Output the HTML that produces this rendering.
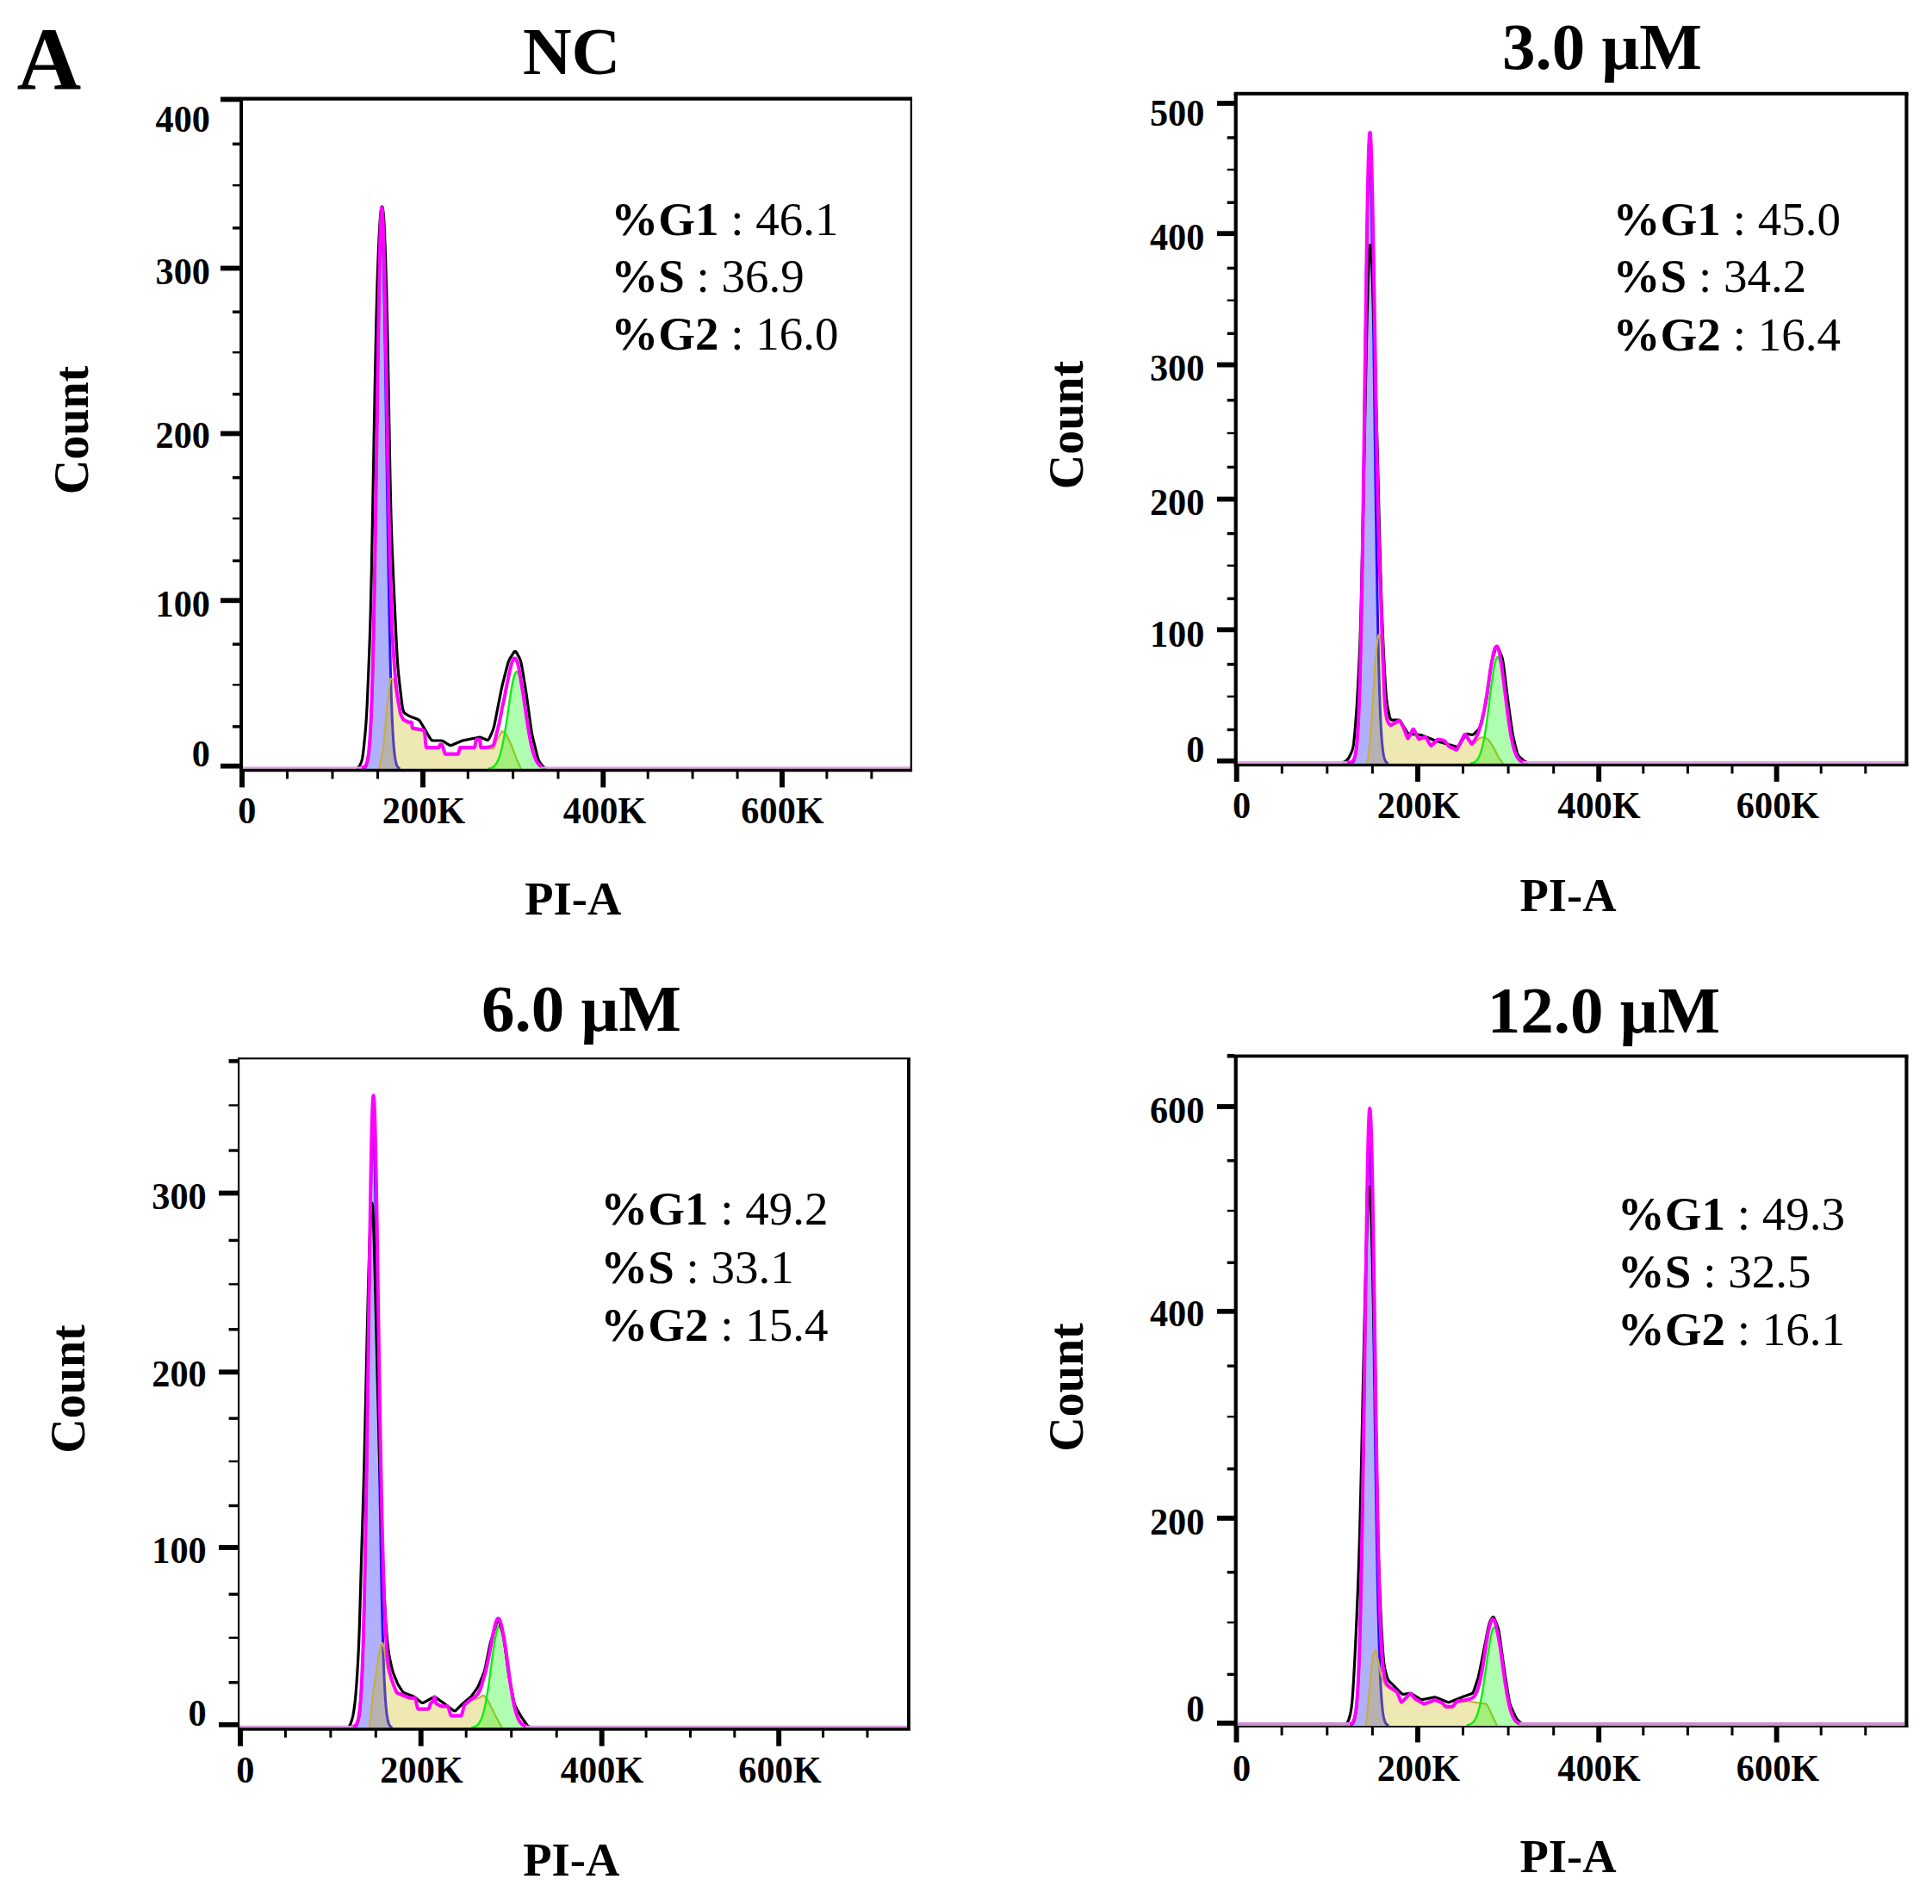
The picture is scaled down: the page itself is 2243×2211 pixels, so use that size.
<!DOCTYPE html>
<html lang="en"><head><meta charset="utf-8"><title>Cell cycle distribution</title>
<style>html,body{margin:0;padding:0;background:#fff}body{width:2243px;height:2211px;overflow:hidden}svg{display:block}text{font-family:"Liberation Serif","Times New Roman",serif;fill:#000}</style>
</head><body>
<svg width="2243" height="2211" viewBox="0 0 2243 2211">
<rect width="2243" height="2211" fill="#fff"/>
<defs>
<clipPath id="clip_NC"><rect x="280.1" y="114.7" width="777.9" height="778.6"/></clipPath>
<clipPath id="clip_3_0"><rect x="1434.7" y="108.8" width="778.7" height="778.4"/></clipPath>
<clipPath id="clip_6_0"><rect x="277.1" y="1229.2" width="777.9" height="777.4"/></clipPath>
<clipPath id="clip_12_0"><rect x="1434.7" y="1226.4" width="778.7" height="778.2"/></clipPath>
</defs>
<text x="19.6" y="104" font-size="103.5" text-anchor="start" font-weight="bold">A</text>
<g>
<g clip-path="url(#clip_NC)">
<path d="M421.1 893 L421.1 892.7 421.6 892.6 422.1 892.4 422.6 892.2 423.1 891.9 423.6 891.5 424.1 890.9 424.6 890.2 425.1 889.3 425.6 888.1 426.1 886.5 426.6 884.5 427.1 882 427.6 878.9 428.1 875 428.6 870.2 429.1 864.5 429.6 857.5 430.1 849.2 430.6 839.3 431.1 827.8 431.6 814.4 432.1 799.1 432.6 781.6 433.1 762 433.6 740 434.1 715.9 434.6 689.5 435.1 661.1 435.6 630.8 436.1 598.9 436.6 565.7 437.1 531.7 437.6 497.4 438.1 463.2 438.6 429.7 439.1 397.6 439.6 367.5 440.1 340 440.6 315.7 441.1 295.1 441.6 278.7 442.1 266.8 442.6 259.8 443.1 257.8 443.6 260.8 444.1 268.8 444.6 281.6 445.1 298.9 445.6 320.3 446.1 345.3 446.6 373.4 447.1 403.9 447.6 436.3 448.1 470 448.6 504.2 449.1 538.6 449.6 572.5 450.1 605.4 450.6 637 451.1 666.9 451.6 694.9 452.1 720.9 452.6 744.6 453.1 766.1 453.6 785.3 454.1 802.3 454.6 817.3 455.1 830.3 455.6 841.4 456.1 851 456.6 859 457.1 865.7 457.6 871.3 458.1 875.8 458.6 879.6 459.1 882.5 459.6 884.9 460.1 886.8 460.6 888.3 461.1 889.5 461.6 890.4 462.1 891 462.6 891.6 463.1 892 463.6 892.2 464.1 892.5 464.6 892.6 L464.6 893 Z" fill="#0000ff" fill-opacity="0.31"/>
<path d="M421.1 892.7 421.6 892.6 422.1 892.4 422.6 892.2 423.1 891.9 423.6 891.5 424.1 890.9 424.6 890.2 425.1 889.3 425.6 888.1 426.1 886.5 426.6 884.5 427.1 882 427.6 878.9 428.1 875 428.6 870.2 429.1 864.5 429.6 857.5 430.1 849.2 430.6 839.3 431.1 827.8 431.6 814.4 432.1 799.1 432.6 781.6 433.1 762 433.6 740 434.1 715.9 434.6 689.5 435.1 661.1 435.6 630.8 436.1 598.9 436.6 565.7 437.1 531.7 437.6 497.4 438.1 463.2 438.6 429.7 439.1 397.6 439.6 367.5 440.1 340 440.6 315.7 441.1 295.1 441.6 278.7 442.1 266.8 442.6 259.8 443.1 257.8 443.6 260.8 444.1 268.8 444.6 281.6 445.1 298.9 445.6 320.3 446.1 345.3 446.6 373.4 447.1 403.9 447.6 436.3 448.1 470 448.6 504.2 449.1 538.6 449.6 572.5 450.1 605.4 450.6 637 451.1 666.9 451.6 694.9 452.1 720.9 452.6 744.6 453.1 766.1 453.6 785.3 454.1 802.3 454.6 817.3 455.1 830.3 455.6 841.4 456.1 851 456.6 859 457.1 865.7 457.6 871.3 458.1 875.8 458.6 879.6 459.1 882.5 459.6 884.9 460.1 886.8 460.6 888.3 461.1 889.5 461.6 890.4 462.1 891 462.6 891.6 463.1 892 463.6 892.2 464.1 892.5 464.6 892.6" fill="none" stroke="#2210ff" stroke-width="3.0" stroke-linejoin="round"/>
<path d="M439.6 893 L439.6 893 440.1 892.4 440.6 890.2 441.1 887.8 441.6 885.2 442.1 882.8 442.6 880.2 443.1 877.8 443.6 875.2 444.1 872.7 444.6 870.2 445.1 867 445.6 861.8 446.1 856.2 446.6 850.6 447.1 844.9 447.6 839.3 448.1 833.7 448.6 828.1 449.1 822.8 449.6 818.2 450.1 813.8 450.6 809.4 451.1 805.1 451.6 800.7 452.1 796.3 452.6 792 453.1 788.7 453.6 788.1 454.1 788.3 454.6 788.4 455.1 788.5 455.6 788.6 456.1 788.8 456.6 788.9 457.1 789.7 457.6 792 458.1 794.8 458.6 797.5 459.1 800.3 459.6 803 460.1 805.8 460.6 808.5 461.1 811.2 461.6 813.7 462.1 816.2 462.6 818.8 463.1 821.2 463.6 823.8 464.1 826.2 464.6 828.7 465.1 830.9 465.6 832.1 466.1 833.1 466.6 834.1 467.1 835.1 467.6 836.1 468.1 836.9 468.6 837.3 469.1 837.5 469.6 837.8 470.1 838 470.6 838.3 471.1 838.5 471.6 838.8 472.1 839 472.6 839.3 473.1 839.5 473.6 839.8 474.1 840 474.6 840 475.1 840 475.6 840 476.1 840 476.6 840 477.1 840 477.6 840.1 478.1 841.6 478.6 846 479.1 847.1 479.6 847.2 480.1 847.2 480.6 847.3 481.1 847.4 481.6 847.5 482.1 847.6 482.6 847.6 483.1 847.7 483.6 847.8 484.1 847.9 484.6 848 485.1 848 485.6 848.1 486.1 848.2 486.6 848.3 487.1 848.4 487.6 848.4 488.1 848.5 488.6 848.6 489.1 848.7 489.6 848.8 490.1 848.8 490.6 848.9 491.1 849.1 491.6 849.6 492.1 850.1 492.6 850.7 493.1 852.5 493.6 857.8 494.1 863.8 494.6 868.6 495.1 869.5 495.6 869.5 496.1 869.5 496.6 869.5 497.1 869.5 497.6 869.5 498.1 869.5 498.6 869.5 499.1 869.5 499.6 869.5 500.1 869.5 500.6 869.5 501.1 869.5 501.6 869.5 502.1 869.5 502.6 869.5 503.1 869.5 503.6 869.5 504.1 869.5 504.6 869.5 505.1 869.5 505.6 869.5 506.1 869.5 506.6 869.5 507.1 869.5 507.6 869.5 508.1 869.5 508.6 869.5 509.1 869.5 509.6 869.4 510.1 868.5 510.6 866.5 511.1 866 511.6 866 512 866 512.5 866 513 866.1 513.5 866.7 514 868.2 514.5 870 515 871.7 515.5 873.4 516 875.1 516.5 876.6 517 877 517.5 877 518 877 518.5 877 519 877 519.5 877 520 877 520.5 877 521 877 521.5 877 522 877 522.5 877 523 877 523.5 877 524 877 524.5 877 525 877 525.5 877 526 877 526.5 877 527 877 527.5 877 528 877 528.5 877 529 877 529.5 877 530 877 530.5 877 531 877 531.5 877 532 876.8 532.5 875.7 533 873.7 533.5 871.5 534 869.8 534.5 869.5 535 869.5 535.5 869.5 536 869.5 536.5 869.5 537 869.5 537.5 869.5 538 869.5 538.5 869.5 539 869.5 539.5 869.5 540 869.5 540.5 869.5 541 869.5 541.5 869.5 542 869.5 542.5 869.5 543 869.5 543.5 869.5 544 869.5 544.5 869.5 545 869.5 545.5 869.5 546 869.5 546.5 869.5 547 869.5 547.5 869.5 548 869.5 548.5 869.5 549 869.5 549.5 869.5 550 869.5 550.5 869.5 551 869.2 551.5 867.6 552 864.8 552.5 861.9 553 860.3 553.5 860 554 860 554.5 860 555 860 555.5 860 556 860 556.5 860 557 860.4 557.5 863.2 558 868.3 558.5 869.5 559 869.5 559.5 869.5 560 869.5 560.5 869.5 561 869.5 561.5 869.5 562 869.5 562.5 869.5 563 869.5 563.5 869.5 564 869.5 564.5 869.5 565 869.5 565.5 869.5 566 869.5 566.5 869.5 567 869.5 567.5 869.5 568 869.5 568.5 869.5 569 869.5 569.5 869.5 570 869.5 570.5 869.5 571 869.5 571.5 869.5 572 869.5 572.5 869.5 573 869.2 573.5 868.1 574 866.7 574.5 865.4 575 864.1 575.5 862.8 576 861.5 576.5 860.2 577 859 577.5 858.1 578 857.3 578.5 856.4 579 855.6 579.5 854.8 580 853.9 580.5 853.1 581 852.3 581.5 851.4 582 850.6 582.5 849.8 583 849.2 583.5 849.4 584 849.8 584.5 850.2 585 850.6 585.5 851 586 851.4 586.5 851.8 587 852.2 587.5 852.7 588 853.2 588.5 854.2 589 855.3 589.5 856.4 590 857.4 590.5 858.5 591 859.6 591.5 860.7 592 861.8 592.5 862.9 593 863.9 593.5 865 594 866.2 594.5 867.5 595 868.8 595.5 870.1 596 871.5 596.5 872.8 597 874.1 597.5 875.5 598 876.8 598.5 878.1 599 879.5 599.5 880.8 600 882.1 600.5 883.2 601 884.3 601.5 885.4 602 886.5 602.5 887.6 603 888.7 603.5 889.8 604 890.9 604.5 892 605 892.8 L605 893 Z" fill="#c8b400" fill-opacity="0.3"/>
<path d="M439.6 893 440.1 892.4 440.6 890.2 441.1 887.8 441.6 885.2 442.1 882.8 442.6 880.2 443.1 877.8 443.6 875.2 444.1 872.7 444.6 870.2 445.1 867 445.6 861.8 446.1 856.2 446.6 850.6 447.1 844.9 447.6 839.3 448.1 833.7 448.6 828.1 449.1 822.8 449.6 818.2 450.1 813.8 450.6 809.4 451.1 805.1 451.6 800.7 452.1 796.3 452.6 792 453.1 788.7 453.6 788.1 454.1 788.3 454.6 788.4 455.1 788.5 455.6 788.6 456.1 788.8 456.6 788.9 457.1 789.7 457.6 792 458.1 794.8 458.6 797.5 459.1 800.3 459.6 803 460.1 805.8 460.6 808.5 461.1 811.2 461.6 813.7 462.1 816.2 462.6 818.8 463.1 821.2 463.6 823.8 464.1 826.2 464.6 828.7 465.1 830.9 465.6 832.1 466.1 833.1 466.6 834.1 467.1 835.1 467.6 836.1 468.1 836.9 468.6 837.3 469.1 837.5 469.6 837.8 470.1 838 470.6 838.3 471.1 838.5 471.6 838.8 472.1 839 472.6 839.3 473.1 839.5 473.6 839.8 474.1 840 474.6 840 475.1 840 475.6 840 476.1 840 476.6 840 477.1 840 477.6 840.1 478.1 841.6 478.6 846 479.1 847.1 479.6 847.2 480.1 847.2 480.6 847.3 481.1 847.4 481.6 847.5 482.1 847.6 482.6 847.6 483.1 847.7 483.6 847.8 484.1 847.9 484.6 848 485.1 848 485.6 848.1 486.1 848.2 486.6 848.3 487.1 848.4 487.6 848.4 488.1 848.5 488.6 848.6 489.1 848.7 489.6 848.8 490.1 848.8 490.6 848.9 491.1 849.1 491.6 849.6 492.1 850.1 492.6 850.7 493.1 852.5 493.6 857.8 494.1 863.8 494.6 868.6 495.1 869.5 495.6 869.5 496.1 869.5 496.6 869.5 497.1 869.5 497.6 869.5 498.1 869.5 498.6 869.5 499.1 869.5 499.6 869.5 500.1 869.5 500.6 869.5 501.1 869.5 501.6 869.5 502.1 869.5 502.6 869.5 503.1 869.5 503.6 869.5 504.1 869.5 504.6 869.5 505.1 869.5 505.6 869.5 506.1 869.5 506.6 869.5 507.1 869.5 507.6 869.5 508.1 869.5 508.6 869.5 509.1 869.5 509.6 869.4 510.1 868.5 510.6 866.5 511.1 866 511.6 866 512 866 512.5 866 513 866.1 513.5 866.7 514 868.2 514.5 870 515 871.7 515.5 873.4 516 875.1 516.5 876.6 517 877 517.5 877 518 877 518.5 877 519 877 519.5 877 520 877 520.5 877 521 877 521.5 877 522 877 522.5 877 523 877 523.5 877 524 877 524.5 877 525 877 525.5 877 526 877 526.5 877 527 877 527.5 877 528 877 528.5 877 529 877 529.5 877 530 877 530.5 877 531 877 531.5 877 532 876.8 532.5 875.7 533 873.7 533.5 871.5 534 869.8 534.5 869.5 535 869.5 535.5 869.5 536 869.5 536.5 869.5 537 869.5 537.5 869.5 538 869.5 538.5 869.5 539 869.5 539.5 869.5 540 869.5 540.5 869.5 541 869.5 541.5 869.5 542 869.5 542.5 869.5 543 869.5 543.5 869.5 544 869.5 544.5 869.5 545 869.5 545.5 869.5 546 869.5 546.5 869.5 547 869.5 547.5 869.5 548 869.5 548.5 869.5 549 869.5 549.5 869.5 550 869.5 550.5 869.5 551 869.2 551.5 867.6 552 864.8 552.5 861.9 553 860.3 553.5 860 554 860 554.5 860 555 860 555.5 860 556 860 556.5 860 557 860.4 557.5 863.2 558 868.3 558.5 869.5 559 869.5 559.5 869.5 560 869.5 560.5 869.5 561 869.5 561.5 869.5 562 869.5 562.5 869.5 563 869.5 563.5 869.5 564 869.5 564.5 869.5 565 869.5 565.5 869.5 566 869.5 566.5 869.5 567 869.5 567.5 869.5 568 869.5 568.5 869.5 569 869.5 569.5 869.5 570 869.5 570.5 869.5 571 869.5 571.5 869.5 572 869.5 572.5 869.5 573 869.2 573.5 868.1 574 866.7 574.5 865.4 575 864.1 575.5 862.8 576 861.5 576.5 860.2 577 859 577.5 858.1 578 857.3 578.5 856.4 579 855.6 579.5 854.8 580 853.9 580.5 853.1 581 852.3 581.5 851.4 582 850.6 582.5 849.8 583 849.2 583.5 849.4 584 849.8 584.5 850.2 585 850.6 585.5 851 586 851.4 586.5 851.8 587 852.2 587.5 852.7 588 853.2 588.5 854.2 589 855.3 589.5 856.4 590 857.4 590.5 858.5 591 859.6 591.5 860.7 592 861.8 592.5 862.9 593 863.9 593.5 865 594 866.2 594.5 867.5 595 868.8 595.5 870.1 596 871.5 596.5 872.8 597 874.1 597.5 875.5 598 876.8 598.5 878.1 599 879.5 599.5 880.8 600 882.1 600.5 883.2 601 884.3 601.5 885.4 602 886.5 602.5 887.6 603 888.7 603.5 889.8 604 890.9 604.5 892 605 892.8" fill="none" stroke="#c4b040" stroke-width="2.2" stroke-linejoin="round"/>
<path d="M566.5 893 L566.5 892.6 567 892.6 567.5 892.5 568 892.4 568.5 892.3 569 892.1 569.5 892 570 891.8 570.5 891.6 571 891.4 571.5 891.2 572 890.9 572.5 890.6 573 890.2 573.5 889.8 574 889.4 574.5 888.8 575 888.3 575.5 887.6 576 886.9 576.5 886.2 577 885.3 577.5 884.4 578 883.3 578.5 882.2 579 881 579.5 879.6 580 878.2 580.5 876.6 581 874.9 581.5 873.1 582 871.2 582.5 869.1 583 866.9 583.5 864.6 584 862.1 584.5 859.6 585 856.9 585.5 854.1 586 851.1 586.5 848.1 587 845 587.5 841.8 588 838.5 588.5 835.1 589 831.7 589.5 828.3 590 824.8 590.5 821.3 591 817.9 591.5 814.5 592 811.1 592.5 807.9 593 804.7 593.5 801.6 594 798.7 594.5 795.9 595 793.3 595.5 790.9 596 788.6 596.5 786.7 597 784.9 597.5 783.4 598 782.2 598.5 781.2 599 780.5 599.5 780.1 600 780 600.5 780.2 601 780.6 601.5 781.4 602 782.4 602.5 783.7 603 785.2 603.5 787 604 789.1 604.5 791.3 605 793.8 605.5 796.4 606 799.2 606.5 802.2 607 805.3 607.5 808.5 608 811.8 608.5 815.2 609 818.6 609.5 822 610 825.5 610.5 829 611 832.4 611.5 835.8 612 839.1 612.5 842.4 613 845.6 613.5 848.7 614 851.7 614.5 854.6 615 857.4 615.5 860.1 616 862.6 616.5 865.1 617 867.4 617.5 869.5 618 871.6 618.5 873.5 619 875.3 619.5 876.9 620 878.5 620.5 879.9 621 881.2 621.5 882.4 622 883.5 622.5 884.6 623 885.5 623.5 886.3 624 887.1 624.5 887.8 625 888.4 625.5 889 626 889.5 626.5 889.9 627 890.3 627.5 890.6 628 891 628.5 891.2 629 891.5 629.5 891.7 630 891.9 630.5 892 631 892.2 631.5 892.3 632 892.4 632.5 892.5 633 892.6 633.5 892.6 L633.5 893 Z" fill="#00ff00" fill-opacity="0.31"/>
<path d="M566.5 892.6 567 892.6 567.5 892.5 568 892.4 568.5 892.3 569 892.1 569.5 892 570 891.8 570.5 891.6 571 891.4 571.5 891.2 572 890.9 572.5 890.6 573 890.2 573.5 889.8 574 889.4 574.5 888.8 575 888.3 575.5 887.6 576 886.9 576.5 886.2 577 885.3 577.5 884.4 578 883.3 578.5 882.2 579 881 579.5 879.6 580 878.2 580.5 876.6 581 874.9 581.5 873.1 582 871.2 582.5 869.1 583 866.9 583.5 864.6 584 862.1 584.5 859.6 585 856.9 585.5 854.1 586 851.1 586.5 848.1 587 845 587.5 841.8 588 838.5 588.5 835.1 589 831.7 589.5 828.3 590 824.8 590.5 821.3 591 817.9 591.5 814.5 592 811.1 592.5 807.9 593 804.7 593.5 801.6 594 798.7 594.5 795.9 595 793.3 595.5 790.9 596 788.6 596.5 786.7 597 784.9 597.5 783.4 598 782.2 598.5 781.2 599 780.5 599.5 780.1 600 780 600.5 780.2 601 780.6 601.5 781.4 602 782.4 602.5 783.7 603 785.2 603.5 787 604 789.1 604.5 791.3 605 793.8 605.5 796.4 606 799.2 606.5 802.2 607 805.3 607.5 808.5 608 811.8 608.5 815.2 609 818.6 609.5 822 610 825.5 610.5 829 611 832.4 611.5 835.8 612 839.1 612.5 842.4 613 845.6 613.5 848.7 614 851.7 614.5 854.6 615 857.4 615.5 860.1 616 862.6 616.5 865.1 617 867.4 617.5 869.5 618 871.6 618.5 873.5 619 875.3 619.5 876.9 620 878.5 620.5 879.9 621 881.2 621.5 882.4 622 883.5 622.5 884.6 623 885.5 623.5 886.3 624 887.1 624.5 887.8 625 888.4 625.5 889 626 889.5 626.5 889.9 627 890.3 627.5 890.6 628 891 628.5 891.2 629 891.5 629.5 891.7 630 891.9 630.5 892 631 892.2 631.5 892.3 632 892.4 632.5 892.5 633 892.6 633.5 892.6" fill="none" stroke="#10ee10" stroke-width="2.4" stroke-linejoin="round"/>
<path d="M414.1 891.5 414.6 891.5 415.1 891.4 415.6 891.3 416.1 891 416.6 890.6 417.1 889.9 417.6 889 418.1 888 418.6 886.9 419.1 885.8 419.6 884.5 420.1 882.9 420.6 880.8 421.1 878.1 421.6 874.5 422.1 870.3 422.6 865.6 423.1 860.7 423.6 855.6 424.1 850.2 424.6 844.3 425.1 837.5 425.6 829.5 426.1 820 426.6 809.3 427.1 797.7 427.6 785.7 428.1 773.4 428.6 760.7 429.1 747.2 429.6 732.2 430.1 715.1 430.6 695.5 431.1 673.6 431.6 649.7 432.1 623.9 432.6 596.8 433.1 568.6 433.6 540 434.1 511.7 434.6 484 435.1 457.4 435.6 431.9 436.1 407.4 436.6 384.1 437.1 362.5 437.6 343.1 438.1 326.1 438.6 311.4 439.1 298.3 439.6 286.4 440.1 275.4 440.6 265.6 441.1 257.4 441.6 250.9 442.1 246 442.6 242.6 443.1 240.5 443.6 240 444.1 240.9 444.6 243.4 445.1 247.6 445.6 253.7 446.1 262.1 446.6 273.1 447.1 286.2 447.6 301 448.1 317.2 448.6 334.9 449.1 354.5 449.6 376.5 450.1 400.6 450.6 426.5 451.1 453.6 451.6 481.4 452.1 509.2 452.6 536.3 453.1 561.6 453.6 584 454.1 603 454.6 618.9 455.1 632.5 455.6 644.8 456.1 656.5 456.6 668 457.1 679.2 457.6 690.3 458.1 701.1 458.6 711.9 459.1 722.6 459.6 733.2 460.1 743.6 460.6 753.4 461.1 762.3 461.6 770 462.1 776.5 462.6 782 463.1 786.8 463.6 791.3 464.1 795.7 464.6 799.9 465.1 804.2 465.6 808.5 466.1 812.6 466.6 816.6 467.1 820.1 467.6 823 468.1 825.1 468.6 826.5 469.1 827.4 469.6 828 470.1 828.4 470.6 828.7 471.1 829 471.6 829.3 472.1 829.6 472.6 830 473.1 830.3 473.6 830.6 474.1 830.9 474.6 831.2 475.1 831.4 475.6 831.7 476.1 831.9 476.6 832.1 477.1 832.3 477.6 832.5 478.1 832.7 478.6 832.9 479.1 833.1 479.6 833.2 480.1 833.4 480.6 833.6 481.1 833.8 481.6 834 482.1 834.2 482.6 834.4 483.1 834.6 483.6 834.8 484.1 835 484.6 835.2 485.1 835.4 485.6 835.6 486.1 836 486.6 836.4 487.1 836.9 487.6 837.6 488.1 838.3 488.6 839.1 489.1 839.9 489.6 840.8 490.1 841.6 490.6 842.4 491.1 843.3 491.6 844.1 492.1 844.9 492.6 845.8 493.1 846.6 493.6 847.5 494.1 848.3 494.6 849.2 495.1 850 495.6 850.9 496.1 851.8 496.6 852.6 497.1 853.5 497.6 854.4 498.1 855.2 498.6 856.1 499.1 856.9 499.6 857.7 500.1 858.5 500.6 859.1 501.1 859.5 501.6 859.8 502.1 859.9 502.6 860 503.1 860 503.6 860 504.1 860 504.6 860 505.1 860 505.6 860 506.1 860 506.6 860 507.1 860 507.6 860 508.1 860 508.6 860 509.1 860 509.6 860 510.1 860 510.6 860 511.1 860 511.6 860 512 860 512.5 860.1 513 860.2 513.5 860.3 514 860.5 514.5 860.8 515 861.1 515.5 861.4 516 861.7 516.5 862 517 862.3 517.5 862.6 518 862.9 518.5 863.3 519 863.6 519.5 863.9 520 864.2 520.5 864.5 521 864.8 521.5 865.1 522 865.3 522.5 865.5 523 865.6 523.5 865.6 524 865.4 524.5 865.3 525 865.1 525.5 864.9 526 864.7 526.5 864.4 527 864.2 527.5 864 528 863.8 528.5 863.6 529 863.4 529.5 863.2 530 863 530.5 862.7 531 862.5 531.5 862.3 532 862.1 532.5 861.9 533 861.7 533.5 861.5 534 861.3 534.5 861 535 860.8 535.5 860.6 536 860.4 536.5 860.2 537 860.1 537.5 859.9 538 859.8 538.5 859.7 539 859.6 539.5 859.5 540 859.4 540.5 859.3 541 859.2 541.5 859.1 542 859 542.5 858.9 543 858.8 543.5 858.7 544 858.6 544.5 858.5 545 858.4 545.5 858.3 546 858.2 546.5 858.1 547 858 547.5 857.9 548 857.8 548.5 857.7 549 857.6 549.5 857.6 550 857.5 550.5 857.4 551 857.3 551.5 857.2 552 857.1 552.5 857 553 856.9 553.5 856.8 554 856.7 554.5 856.6 555 856.5 555.5 856.4 556 856.3 556.5 856.2 557 856.2 557.5 856.2 558 856.3 558.5 856.5 559 856.7 559.5 856.9 560 857.1 560.5 857.3 561 857.5 561.5 857.7 562 857.9 562.5 858.1 563 858.3 563.5 858.5 564 858.8 564.5 859 565 859.2 565.5 859.3 566 859.4 566.5 859.2 567 858.9 567.5 858.3 568 857.4 568.5 856.4 569 855.4 569.5 854.2 570 853.1 570.5 852 571 850.9 571.5 849.7 572 848.5 572.5 847.1 573 845.5 573.5 843.7 574 841.6 574.5 839.2 575 836.8 575.5 834.2 576 831.7 576.5 829.1 577 826.5 577.5 824 578 821.4 578.5 818.8 579 816.3 579.5 813.7 580 811.1 580.5 808.6 581 806 581.5 803.5 582 801 582.5 798.7 583 796.4 583.5 794.3 584 792.3 584.5 790.3 585 788.4 585.5 786.4 586 784.5 586.5 782.6 587 780.7 587.5 778.7 588 776.8 588.5 774.9 589 773 589.5 771.2 590 769.5 590.5 768 591 766.8 591.5 765.7 592 764.8 592.5 763.9 593 763.1 593.5 762.3 594 761.6 594.5 760.8 595 760 595.5 759.2 596 758.4 596.5 757.7 597 757 597.5 756.6 598 756.4 598.5 756.5 599 756.9 599.5 757.6 600 758.4 600.5 759.3 601 760.2 601.5 761.1 602 762 602.5 762.9 603 763.9 603.5 765 604 766.2 604.5 767.8 605 769.8 605.5 772.1 606 774.8 606.5 777.7 607 780.7 607.5 783.8 608 786.8 608.5 789.9 609 792.9 609.5 796 610 799.1 610.5 802.3 611 805.6 611.5 809.1 612 812.6 612.5 816.3 613 819.9 613.5 823.6 614 827.3 614.5 831 615 834.7 615.5 838.3 616 841.9 616.5 845.4 617 848.6 617.5 851.5 618 854.1 618.5 856.4 619 858.5 619.5 860.6 620 862.6 620.5 864.6 621 866.6 621.5 868.6 622 870.6 622.5 872.6 623 874.6 623.5 876.6 624 878.5 624.5 880.2 625 881.8 625.5 883.1 626 884.2 626.5 885 627 885.7 627.5 886.4 628 887 628.5 887.7 629 888.3 629.5 888.9 630 889.5 630.5 890.1 631 890.6 631.5 891 632 891.2 632.5 891.4 633 891.5 633.5 891.5" fill="none" stroke="#000" stroke-width="3.2" stroke-linejoin="round" stroke-linecap="butt"/>
<path d="M418.1 891.5 418.6 891.5 419.1 891.4 419.6 891.4 420.1 891.4 420.6 891.3 421.1 891.2 421.6 891.1 422.1 890.9 422.6 890.7 423.1 890.4 423.6 890 424.1 889.4 424.6 888.7 425.1 887.8 425.6 886.6 426.1 885 426.6 883 427.1 880.5 427.6 877.4 428.1 873.5 428.6 868.7 429.1 863 429.6 856 430.1 847.7 430.6 837.8 431.1 826.3 431.6 812.9 432.1 797.6 432.6 780.1 433.1 760.5 433.6 738.5 434.1 714.4 434.6 688 435.1 659.6 435.6 629.3 436.1 597.4 436.6 564.2 437.1 530.2 437.6 495.9 438.1 461.7 438.6 428.2 439.1 396.1 439.6 366 440.1 337.9 440.6 311.4 441.1 288.3 441.6 269.4 442.1 255.1 442.6 245.5 443.1 241 443.6 241.5 444.1 247 444.6 257.3 445.1 271.4 445.6 287.6 446.1 307 446.6 329.4 447.1 354.4 447.6 381.1 448.1 409.2 448.6 437.8 449.1 466.8 449.6 496.1 450.1 524.7 450.6 551.9 451.1 577.5 451.6 601.1 452.1 622.7 452.6 642.1 453.1 660.3 453.6 678.9 454.1 696.1 454.6 711.2 455.1 724.3 455.6 735.6 456.1 745.2 456.6 753.4 457.1 760.9 457.6 768.8 458.1 776.1 458.6 782.6 459.1 788.3 459.6 793.5 460.1 798.1 460.6 802.3 461.1 806.2 461.6 809.6 462.1 812.8 462.6 815.8 463.1 818.7 463.6 821.5 464.1 824.2 464.6 826.8 465.1 829.1 465.6 830.4 466.1 831.5 466.6 832.5 467.1 833.5 467.6 834.5 468.1 835.4 468.6 835.8 469.1 836 469.6 836.3 470.1 836.5 470.6 836.8 471.1 837 471.6 837.3 472.1 837.5 472.6 837.8 473.1 838 473.6 838.3 474.1 838.5 474.6 838.5 475.1 838.5 475.6 838.5 476.1 838.5 476.6 838.5 477.1 838.5 477.6 838.6 478.1 840.1 478.6 844.5 479.1 845.6 479.6 845.7 480.1 845.7 480.6 845.8 481.1 845.9 481.6 846 482.1 846.1 482.6 846.1 483.1 846.2 483.6 846.3 484.1 846.4 484.6 846.5 485.1 846.5 485.6 846.6 486.1 846.7 486.6 846.8 487.1 846.9 487.6 846.9 488.1 847 488.6 847.1 489.1 847.2 489.6 847.3 490.1 847.3 490.6 847.4 491.1 847.6 491.6 848.1 492.1 848.6 492.6 849.2 493.1 851 493.6 856.3 494.1 862.3 494.6 867.1 495.1 868 495.6 868 496.1 868 496.6 868 497.1 868 497.6 868 498.1 868 498.6 868 499.1 868 499.6 868 500.1 868 500.6 868 501.1 868 501.6 868 502.1 868 502.6 868 503.1 868 503.6 868 504.1 868 504.6 868 505.1 868 505.6 868 506.1 868 506.6 868 507.1 868 507.6 868 508.1 868 508.6 868 509.1 868 509.6 867.9 510.1 867 510.6 865 511.1 864.5 511.6 864.5 512 864.5 512.5 864.5 513 864.6 513.5 865.2 514 866.7 514.5 868.5 515 870.2 515.5 871.9 516 873.6 516.5 875.1 517 875.5 517.5 875.5 518 875.5 518.5 875.5 519 875.5 519.5 875.5 520 875.5 520.5 875.5 521 875.5 521.5 875.5 522 875.5 522.5 875.5 523 875.5 523.5 875.5 524 875.5 524.5 875.5 525 875.5 525.5 875.5 526 875.5 526.5 875.5 527 875.5 527.5 875.5 528 875.5 528.5 875.5 529 875.5 529.5 875.5 530 875.5 530.5 875.5 531 875.5 531.5 875.5 532 875.3 532.5 874.2 533 872.2 533.5 870 534 868.3 534.5 868 535 868 535.5 868 536 868 536.5 868 537 868 537.5 868 538 868 538.5 868 539 868 539.5 868 540 868 540.5 868 541 868 541.5 868 542 868 542.5 868 543 868 543.5 868 544 868 544.5 868 545 868 545.5 868 546 868 546.5 868 547 868 547.5 868 548 868 548.5 868 549 868 549.5 868 550 868 550.5 868 551 867.7 551.5 866.1 552 863.2 552.5 860.4 553 858.8 553.5 858.5 554 858.5 554.5 858.5 555 858.5 555.5 858.5 556 858.5 556.5 858.5 557 858.9 557.5 861.7 558 866.8 558.5 868 559 868 559.5 868 560 868 560.5 868 561 868 561.5 867.9 562 867.9 562.5 867.9 563 867.9 563.5 867.9 564 867.8 564.5 867.8 565 867.8 565.5 867.7 566 867.7 566.5 867.6 567 867.6 567.5 867.5 568 867.4 568.5 867.3 569 867.1 569.5 867 570 866.8 570.5 866.6 571 866.4 571.5 866.2 572 865.9 572.5 865.6 573 864.9 573.5 863.4 574 861.6 574.5 859.8 575 857.9 575.5 856 576 853.9 576.5 851.9 577 849.8 577.5 847.9 578 846.1 578.5 844.1 579 842 579.5 839.9 580 837.6 580.5 835.2 581 832.7 581.5 830 582 827.2 582.5 824.4 583 821.6 583.5 819.5 584 817.5 584.5 815.3 585 813 585.5 810.6 586 808.1 586.5 805.4 587 802.7 587.5 799.9 588 797.2 588.5 794.8 589 792.5 589.5 790.1 590 787.7 590.5 785.4 591 783 591.5 780.7 592 778.4 592.5 776.2 593 774.1 593.5 772.1 594 770.3 594.5 768.9 595 767.6 595.5 766.5 596 765.6 596.5 765 597 764.5 597.5 764.4 598 764.5 598.5 764.8 599 765.5 599.5 766.4 600 767.6 600.5 768.9 601 770.4 601.5 772.3 602 774.4 602.5 776.8 603 779.4 603.5 782.3 604 785.5 604.5 788.8 605 792.1 605.5 794.9 606 797.7 606.5 800.7 607 803.8 607.5 807 608 810.3 608.5 813.7 609 817.1 609.5 820.5 610 824 610.5 827.5 611 830.9 611.5 834.3 612 837.6 612.5 840.9 613 844.1 613.5 847.2 614 850.2 614.5 853.1 615 855.9 615.5 858.6 616 861.1 616.5 863.6 617 865.9 617.5 868 618 870.1 618.5 872 619 873.8 619.5 875.4 620 877 620.5 878.4 621 879.7 621.5 880.9 622 882 622.5 883.1 623 884 623.5 884.8 624 885.6 624.5 886.3 625 886.9 625.5 887.5 626 888 626.5 888.4 627 888.8 627.5 889.1 628 889.5 628.5 889.7 629 890 629.5 890.2" fill="none" stroke="#ff00ff" stroke-width="4.0" stroke-linejoin="round" stroke-linecap="butt"/>
</g>
<line x1="282" y1="891.5" x2="420" y2="891.5" stroke="#e29fe2" stroke-width="2.6"/>
<line x1="628" y1="891.5" x2="1056.8" y2="891.5" stroke="#e29fe2" stroke-width="2.6"/>
<line x1="278.1" y1="114.7" x2="1059.1" y2="114.7" stroke="#000" stroke-width="4.2"/>
<line x1="278.1" y1="894.5" x2="1059.1" y2="894.5" stroke="#000" stroke-width="3.4"/>
<line x1="280.1" y1="114.7" x2="280.1" y2="894.5" stroke="#000" stroke-width="3.9"/>
<line x1="1057.9" y1="114.7" x2="1057.9" y2="894.5" stroke="#000" stroke-width="2.3"/>
<line x1="256" y1="115.4" x2="278.6" y2="115.4" stroke="#000" stroke-width="5.8"/>
<text transform="translate(244 153) scale(0.94 1)" font-size="45" text-anchor="end" font-weight="bold">400</text>
<line x1="270" y1="167.2" x2="278.6" y2="167.2" stroke="#000" stroke-width="3.4"/>
<line x1="270" y1="215.2" x2="278.6" y2="215.2" stroke="#000" stroke-width="2.4"/>
<line x1="270" y1="264.8" x2="278.6" y2="264.8" stroke="#000" stroke-width="3.4"/>
<line x1="256" y1="311.5" x2="278.6" y2="311.5" stroke="#000" stroke-width="5.8"/>
<text transform="translate(244 330.3) scale(0.94 1)" font-size="45" text-anchor="end" font-weight="bold">300</text>
<line x1="270" y1="362.2" x2="278.6" y2="362.2" stroke="#000" stroke-width="3.4"/>
<line x1="270" y1="409.2" x2="278.6" y2="409.2" stroke="#000" stroke-width="2.4"/>
<line x1="270" y1="457.8" x2="278.6" y2="457.8" stroke="#000" stroke-width="3.4"/>
<line x1="256" y1="503.5" x2="278.6" y2="503.5" stroke="#000" stroke-width="5.8"/>
<text transform="translate(244 520.3) scale(0.94 1)" font-size="45" text-anchor="end" font-weight="bold">200</text>
<line x1="270" y1="554.7" x2="278.6" y2="554.7" stroke="#000" stroke-width="3.4"/>
<line x1="270" y1="602.1" x2="278.6" y2="602.1" stroke="#000" stroke-width="2.4"/>
<line x1="270" y1="651.2" x2="278.6" y2="651.2" stroke="#000" stroke-width="3.4"/>
<line x1="256" y1="697.3" x2="278.6" y2="697.3" stroke="#000" stroke-width="5.8"/>
<text transform="translate(244 716.2) scale(0.94 1)" font-size="45" text-anchor="end" font-weight="bold">100</text>
<line x1="270" y1="748.1" x2="278.6" y2="748.1" stroke="#000" stroke-width="3.4"/>
<line x1="270" y1="795.2" x2="278.6" y2="795.2" stroke="#000" stroke-width="2.4"/>
<line x1="270" y1="843.8" x2="278.6" y2="843.8" stroke="#000" stroke-width="3.4"/>
<line x1="256" y1="889.6" x2="278.6" y2="889.6" stroke="#000" stroke-width="5.8"/>
<text transform="translate(244 890) scale(0.94 1)" font-size="45" text-anchor="end" font-weight="bold">0</text>
<line x1="281" y1="894.5" x2="281" y2="914.4" stroke="#000" stroke-width="5.9"/>
<line x1="333.5" y1="894.5" x2="333.5" y2="904.5" stroke="#000" stroke-width="3"/>
<line x1="386" y1="894.5" x2="386" y2="904.5" stroke="#000" stroke-width="3"/>
<line x1="438.5" y1="894.5" x2="438.5" y2="904.5" stroke="#000" stroke-width="3"/>
<line x1="491" y1="894.5" x2="491" y2="914.4" stroke="#000" stroke-width="5.9"/>
<line x1="543.3" y1="894.5" x2="543.3" y2="904.5" stroke="#000" stroke-width="3"/>
<line x1="595.6" y1="894.5" x2="595.6" y2="904.5" stroke="#000" stroke-width="3"/>
<line x1="648" y1="894.5" x2="648" y2="904.5" stroke="#000" stroke-width="3"/>
<line x1="700.3" y1="894.5" x2="700.3" y2="914.4" stroke="#000" stroke-width="5.9"/>
<line x1="752.2" y1="894.5" x2="752.2" y2="904.5" stroke="#000" stroke-width="3"/>
<line x1="804.1" y1="894.5" x2="804.1" y2="904.5" stroke="#000" stroke-width="3"/>
<line x1="856.1" y1="894.5" x2="856.1" y2="904.5" stroke="#000" stroke-width="3"/>
<line x1="908" y1="894.5" x2="908" y2="914.4" stroke="#000" stroke-width="5.9"/>
<line x1="959.9" y1="894.5" x2="959.9" y2="904.5" stroke="#000" stroke-width="3"/>
<line x1="1011.9" y1="894.5" x2="1011.9" y2="904.5" stroke="#000" stroke-width="3"/>
<text transform="translate(276.2 956.4) scale(0.94 1)" font-size="45" text-anchor="start" font-weight="bold">0</text>
<text transform="translate(492 956.4) scale(0.94 1)" font-size="45" text-anchor="middle" font-weight="bold">200K</text>
<text transform="translate(702 956.4) scale(0.94 1)" font-size="45" text-anchor="middle" font-weight="bold">400K</text>
<text transform="translate(908.5 956.4) scale(0.94 1)" font-size="45" text-anchor="middle" font-weight="bold">600K</text>
<text x="663.6" y="86.4" font-size="78.5" text-anchor="middle" font-weight="bold">NC</text>
<text x="665.3" y="1062.4" font-size="54.5" text-anchor="middle" font-weight="bold">PI-A</text>
<text transform="translate(102.2 499.5) rotate(-90)" font-size="56" font-weight="bold" text-anchor="middle">Count</text>
<text x="709.2" y="272.5" font-size="55"><tspan font-weight="bold">%G1</tspan> : 46.1</text>
<text x="709.2" y="338.6" font-size="55"><tspan font-weight="bold">%S</tspan> : 36.9</text>
<text x="709.2" y="405.8" font-size="55"><tspan font-weight="bold">%G2</tspan> : 16.0</text>
</g>
<g>
<g clip-path="url(#clip_3_0)">
<path d="M1568.2 886.9 L1568.2 886.5 1568.7 886.4 1569.2 886.2 1569.7 885.9 1570.2 885.5 1570.7 885 1571.2 884.4 1571.7 883.5 1572.2 882.4 1572.7 880.9 1573.2 879 1573.7 876.7 1574.2 873.7 1574.7 869.9 1575.2 865.4 1575.7 859.7 1576.2 852.9 1576.7 844.7 1577.2 834.9 1577.7 823.4 1578.2 810 1578.7 794.4 1579.2 776.6 1579.7 756.4 1580.2 733.8 1580.7 708.6 1581.2 680.9 1581.7 650.8 1582.2 618.5 1582.7 584.1 1583.2 548.1 1583.7 510.8 1584.2 472.7 1584.7 434.4 1585.2 396.5 1585.7 359.6 1586.2 324.4 1586.7 291.6 1587.2 262 1587.7 236 1588.2 214.4 1588.7 197.6 1589.2 186 1589.7 179.8 1590.2 179.2 1590.7 184.3 1591.2 194.8 1591.7 210.7 1592.2 231.4 1592.7 256.5 1593.2 285.4 1593.7 317.6 1594.2 352.4 1594.7 389 1595.2 426.8 1595.7 465.1 1596.2 503.2 1596.7 540.7 1597.2 577 1597.7 611.8 1598.2 644.5 1598.7 675.1 1599.2 703.2 1599.7 728.9 1600.2 752.1 1600.7 772.8 1601.2 791.1 1601.7 807.1 1602.2 820.9 1602.7 832.8 1603.2 842.9 1603.7 851.4 1604.2 858.5 1604.7 864.3 1605.2 869.1 1605.7 873 1606.2 876.1 1606.7 878.6 1607.2 880.6 1607.7 882.1 1608.2 883.3 1608.7 884.2 1609.2 884.9 1609.7 885.4 1610.2 885.8 1610.7 886.1 1611.2 886.4 1611.7 886.5 L1611.7 886.9 Z" fill="#0000ff" fill-opacity="0.31"/>
<path d="M1568.2 886.5 1568.7 886.4 1569.2 886.2 1569.7 885.9 1570.2 885.5 1570.7 885 1571.2 884.4 1571.7 883.5 1572.2 882.4 1572.7 880.9 1573.2 879 1573.7 876.7 1574.2 873.7 1574.7 869.9 1575.2 865.4 1575.7 859.7 1576.2 852.9 1576.7 844.7 1577.2 834.9 1577.7 823.4 1578.2 810 1578.7 794.4 1579.2 776.6 1579.7 756.4 1580.2 733.8 1580.7 708.6 1581.2 680.9 1581.7 650.8 1582.2 618.5 1582.7 584.1 1583.2 548.1 1583.7 510.8 1584.2 472.7 1584.7 434.4 1585.2 396.5 1585.7 359.6 1586.2 324.4 1586.7 291.6 1587.2 262 1587.7 236 1588.2 214.4 1588.7 197.6 1589.2 186 1589.7 179.8 1590.2 179.2 1590.7 184.3 1591.2 194.8 1591.7 210.7 1592.2 231.4 1592.7 256.5 1593.2 285.4 1593.7 317.6 1594.2 352.4 1594.7 389 1595.2 426.8 1595.7 465.1 1596.2 503.2 1596.7 540.7 1597.2 577 1597.7 611.8 1598.2 644.5 1598.7 675.1 1599.2 703.2 1599.7 728.9 1600.2 752.1 1600.7 772.8 1601.2 791.1 1601.7 807.1 1602.2 820.9 1602.7 832.8 1603.2 842.9 1603.7 851.4 1604.2 858.5 1604.7 864.3 1605.2 869.1 1605.7 873 1606.2 876.1 1606.7 878.6 1607.2 880.6 1607.7 882.1 1608.2 883.3 1608.7 884.2 1609.2 884.9 1609.7 885.4 1610.2 885.8 1610.7 886.1 1611.2 886.4 1611.7 886.5" fill="none" stroke="#2210ff" stroke-width="3.0" stroke-linejoin="round"/>
<path d="M1586.2 886.9 L1586.2 886.7 1586.7 886.1 1587.2 884.5 1587.7 882 1588.2 878.9 1588.7 875.5 1589.2 872.1 1589.7 868.2 1590.2 863.5 1590.7 857.9 1591.2 851.9 1591.7 845.6 1592.2 839.4 1592.7 833 1593.2 826.3 1593.7 818.6 1594.2 809.8 1594.7 800.3 1595.2 790.8 1595.7 782 1596.2 774.5 1596.7 768.5 1597.2 763.3 1597.7 758.3 1598.2 753.5 1598.7 748.6 1599.2 744.1 1599.7 740.4 1600.2 738.1 1600.7 737.2 1601.2 736.9 1601.7 737 1602.2 737.4 1602.7 739 1603.2 742.9 1603.7 749.2 1604.2 757 1604.7 765.3 1605.2 773.7 1605.7 782.6 1606.2 792.3 1606.7 802.6 1607.2 812.8 1607.7 821.1 1608.2 826.8 1608.7 830.4 1609.2 833.2 1609.7 835.7 1610.2 837.5 1610.7 838.8 1611.2 839.7 1611.7 840.4 1612.2 841.2 1612.7 841.9 1613.2 842.6 1613.7 843.2 1614.2 843.5 1614.7 843.4 1615.2 843.2 1615.7 843 1616.2 842.7 1616.7 842.4 1617.2 842.2 1617.7 841.9 1618.2 841.6 1618.7 841.3 1619.2 841.1 1619.7 840.8 1620.2 840.5 1620.7 840.2 1621.2 840 1621.7 839.7 1622.2 839.4 1622.7 839.2 1623.2 838.9 1623.7 838.6 1624.2 838.4 1624.7 838.4 1625.2 838.7 1625.7 839.4 1626.2 840.2 1626.7 841.2 1627.2 842.2 1627.7 843.1 1628.2 844.1 1628.7 845.1 1629.2 846.1 1629.7 847.2 1630.2 848.4 1630.7 849.6 1631.2 851 1631.7 852.3 1632.2 853.7 1632.7 855 1633.2 856.4 1633.7 857.6 1634.2 858.5 1634.7 858.8 1635.2 858.3 1635.7 857.5 1636.2 856.5 1636.7 855.5 1637.2 854.5 1637.7 853.4 1638.2 852.4 1638.7 851.4 1639.2 850.4 1639.7 849.4 1640.2 848.6 1640.7 848.2 1641.2 848.4 1641.7 849.1 1642.2 850 1642.7 851 1643.2 852 1643.7 853 1644.2 854.1 1644.7 855.1 1645.2 856.1 1645.7 857.1 1646.2 858 1646.7 858.9 1647.2 859.4 1647.7 859.6 1648.2 859.5 1648.7 859.3 1649.2 859.1 1649.7 858.9 1650.2 858.7 1650.7 858.5 1651.2 858.3 1651.7 858.2 1652.2 858 1652.7 857.8 1653.2 857.6 1653.7 857.4 1654.2 857.3 1654.7 857.3 1655.2 857.6 1655.7 858.2 1656.2 859 1656.7 859.9 1657.2 860.7 1657.7 861.6 1658.2 862.5 1658.7 863.4 1659.2 864.2 1659.7 865.1 1660.2 866 1660.7 866.7 1661.2 867.2 1661.7 867.2 1662.2 866.9 1662.7 866.5 1663.2 866 1663.7 865.5 1664.2 865 1664.7 864.5 1665.2 864 1665.7 863.4 1666.2 862.9 1666.7 862.4 1667.2 861.9 1667.7 861.4 1668.2 860.9 1668.7 860.5 1669.2 860.2 1669.7 860.1 1670.2 860.1 1670.7 860.2 1671.2 860.3 1671.7 860.4 1672.2 860.5 1672.7 860.6 1673.2 860.7 1673.7 860.8 1674.2 860.9 1674.7 861 1675.2 861.1 1675.7 861.2 1676.2 861.3 1676.7 861.5 1677.2 861.9 1677.7 862.4 1678.2 863 1678.7 863.7 1679.2 864.4 1679.7 865.1 1680.2 865.7 1680.7 866.4 1681.2 867 1681.7 867.6 1682.2 868 1682.7 868.3 1683.2 868.6 1683.7 868.8 1684.2 869 1684.7 869.3 1685.2 869.5 1685.7 869.7 1686.2 870 1686.7 870.2 1687.2 870.5 1687.7 870.7 1688.2 870.9 1688.7 871.2 1689.2 871.4 1689.7 871.6 1690.2 871.9 1690.7 872 1691.2 871.9 1691.7 871.4 1692.2 870.5 1692.7 869.6 1693.2 868.6 1693.7 867.5 1694.2 866.5 1694.7 865.5 1695.2 864.5 1695.7 863.5 1696.2 862.5 1696.7 861.5 1697.2 860.5 1697.7 859.5 1698.2 858.5 1698.7 857.4 1699.2 856.4 1699.7 855.5 1700.2 854.6 1700.7 854.2 1701.2 854.4 1701.7 855 1702.2 855.8 1702.7 856.6 1703.2 857.4 1703.7 858.2 1704.2 859 1704.7 859.8 1705.2 860.6 1705.7 861.4 1706.2 862.2 1706.7 863 1707.2 863.8 1707.7 864.6 1708.2 865.2 1708.7 865.5 1709.2 865.4 1709.7 865 1710.2 864.6 1710.7 864.1 1711.2 863.6 1711.7 863.1 1712.2 862.6 1712.7 862.2 1713.2 861.7 1713.7 861.2 1714.2 860.7 1714.7 860.2 1715.2 859.7 1715.7 859.2 1716.2 858.7 1716.7 858.2 1717.2 857.7 1717.7 857.3 1718.2 857 1718.7 856.8 1719.2 856.7 1719.7 856.6 1720.2 856.5 1720.7 856.4 1721.2 856.4 1721.7 856.3 1722.2 856.2 1722.7 856.1 1723.2 856.1 1723.7 856.1 1724.2 856.2 1724.7 856.5 1725.2 856.9 1725.7 857.3 1726.2 857.7 1726.7 858.1 1727.2 858.5 1727.7 858.9 1728.2 859.3 1728.7 859.8 1729.2 860.4 1729.7 861.1 1730.2 861.9 1730.7 862.7 1731.2 863.6 1731.7 864.4 1732.2 865.2 1732.7 866.1 1733.2 866.9 1733.7 867.7 1734.2 868.6 1734.7 869.4 1735.2 870.4 1735.7 871.3 1736.2 872.3 1736.7 873.3 1737.2 874.3 1737.7 875.3 1738.2 876.3 1738.7 877.3 1739.2 878.3 1739.7 879.2 1740.2 880.1 1740.7 880.9 1741.2 881.6 1741.7 882.3 1742.2 883 1742.7 883.7 1743.2 884.4 1743.7 885.1 1744.2 885.7 1744.7 886.3 1745.2 886.7 L1745.2 886.9 Z" fill="#c8b400" fill-opacity="0.3"/>
<path d="M1586.2 886.7 1586.7 886.1 1587.2 884.5 1587.7 882 1588.2 878.9 1588.7 875.5 1589.2 872.1 1589.7 868.2 1590.2 863.5 1590.7 857.9 1591.2 851.9 1591.7 845.6 1592.2 839.4 1592.7 833 1593.2 826.3 1593.7 818.6 1594.2 809.8 1594.7 800.3 1595.2 790.8 1595.7 782 1596.2 774.5 1596.7 768.5 1597.2 763.3 1597.7 758.3 1598.2 753.5 1598.7 748.6 1599.2 744.1 1599.7 740.4 1600.2 738.1 1600.7 737.2 1601.2 736.9 1601.7 737 1602.2 737.4 1602.7 739 1603.2 742.9 1603.7 749.2 1604.2 757 1604.7 765.3 1605.2 773.7 1605.7 782.6 1606.2 792.3 1606.7 802.6 1607.2 812.8 1607.7 821.1 1608.2 826.8 1608.7 830.4 1609.2 833.2 1609.7 835.7 1610.2 837.5 1610.7 838.8 1611.2 839.7 1611.7 840.4 1612.2 841.2 1612.7 841.9 1613.2 842.6 1613.7 843.2 1614.2 843.5 1614.7 843.4 1615.2 843.2 1615.7 843 1616.2 842.7 1616.7 842.4 1617.2 842.2 1617.7 841.9 1618.2 841.6 1618.7 841.3 1619.2 841.1 1619.7 840.8 1620.2 840.5 1620.7 840.2 1621.2 840 1621.7 839.7 1622.2 839.4 1622.7 839.2 1623.2 838.9 1623.7 838.6 1624.2 838.4 1624.7 838.4 1625.2 838.7 1625.7 839.4 1626.2 840.2 1626.7 841.2 1627.2 842.2 1627.7 843.1 1628.2 844.1 1628.7 845.1 1629.2 846.1 1629.7 847.2 1630.2 848.4 1630.7 849.6 1631.2 851 1631.7 852.3 1632.2 853.7 1632.7 855 1633.2 856.4 1633.7 857.6 1634.2 858.5 1634.7 858.8 1635.2 858.3 1635.7 857.5 1636.2 856.5 1636.7 855.5 1637.2 854.5 1637.7 853.4 1638.2 852.4 1638.7 851.4 1639.2 850.4 1639.7 849.4 1640.2 848.6 1640.7 848.2 1641.2 848.4 1641.7 849.1 1642.2 850 1642.7 851 1643.2 852 1643.7 853 1644.2 854.1 1644.7 855.1 1645.2 856.1 1645.7 857.1 1646.2 858 1646.7 858.9 1647.2 859.4 1647.7 859.6 1648.2 859.5 1648.7 859.3 1649.2 859.1 1649.7 858.9 1650.2 858.7 1650.7 858.5 1651.2 858.3 1651.7 858.2 1652.2 858 1652.7 857.8 1653.2 857.6 1653.7 857.4 1654.2 857.3 1654.7 857.3 1655.2 857.6 1655.7 858.2 1656.2 859 1656.7 859.9 1657.2 860.7 1657.7 861.6 1658.2 862.5 1658.7 863.4 1659.2 864.2 1659.7 865.1 1660.2 866 1660.7 866.7 1661.2 867.2 1661.7 867.2 1662.2 866.9 1662.7 866.5 1663.2 866 1663.7 865.5 1664.2 865 1664.7 864.5 1665.2 864 1665.7 863.4 1666.2 862.9 1666.7 862.4 1667.2 861.9 1667.7 861.4 1668.2 860.9 1668.7 860.5 1669.2 860.2 1669.7 860.1 1670.2 860.1 1670.7 860.2 1671.2 860.3 1671.7 860.4 1672.2 860.5 1672.7 860.6 1673.2 860.7 1673.7 860.8 1674.2 860.9 1674.7 861 1675.2 861.1 1675.7 861.2 1676.2 861.3 1676.7 861.5 1677.2 861.9 1677.7 862.4 1678.2 863 1678.7 863.7 1679.2 864.4 1679.7 865.1 1680.2 865.7 1680.7 866.4 1681.2 867 1681.7 867.6 1682.2 868 1682.7 868.3 1683.2 868.6 1683.7 868.8 1684.2 869 1684.7 869.3 1685.2 869.5 1685.7 869.7 1686.2 870 1686.7 870.2 1687.2 870.5 1687.7 870.7 1688.2 870.9 1688.7 871.2 1689.2 871.4 1689.7 871.6 1690.2 871.9 1690.7 872 1691.2 871.9 1691.7 871.4 1692.2 870.5 1692.7 869.6 1693.2 868.6 1693.7 867.5 1694.2 866.5 1694.7 865.5 1695.2 864.5 1695.7 863.5 1696.2 862.5 1696.7 861.5 1697.2 860.5 1697.7 859.5 1698.2 858.5 1698.7 857.4 1699.2 856.4 1699.7 855.5 1700.2 854.6 1700.7 854.2 1701.2 854.4 1701.7 855 1702.2 855.8 1702.7 856.6 1703.2 857.4 1703.7 858.2 1704.2 859 1704.7 859.8 1705.2 860.6 1705.7 861.4 1706.2 862.2 1706.7 863 1707.2 863.8 1707.7 864.6 1708.2 865.2 1708.7 865.5 1709.2 865.4 1709.7 865 1710.2 864.6 1710.7 864.1 1711.2 863.6 1711.7 863.1 1712.2 862.6 1712.7 862.2 1713.2 861.7 1713.7 861.2 1714.2 860.7 1714.7 860.2 1715.2 859.7 1715.7 859.2 1716.2 858.7 1716.7 858.2 1717.2 857.7 1717.7 857.3 1718.2 857 1718.7 856.8 1719.2 856.7 1719.7 856.6 1720.2 856.5 1720.7 856.4 1721.2 856.4 1721.7 856.3 1722.2 856.2 1722.7 856.1 1723.2 856.1 1723.7 856.1 1724.2 856.2 1724.7 856.5 1725.2 856.9 1725.7 857.3 1726.2 857.7 1726.7 858.1 1727.2 858.5 1727.7 858.9 1728.2 859.3 1728.7 859.8 1729.2 860.4 1729.7 861.1 1730.2 861.9 1730.7 862.7 1731.2 863.6 1731.7 864.4 1732.2 865.2 1732.7 866.1 1733.2 866.9 1733.7 867.7 1734.2 868.6 1734.7 869.4 1735.2 870.4 1735.7 871.3 1736.2 872.3 1736.7 873.3 1737.2 874.3 1737.7 875.3 1738.2 876.3 1738.7 877.3 1739.2 878.3 1739.7 879.2 1740.2 880.1 1740.7 880.9 1741.2 881.6 1741.7 882.3 1742.2 883 1742.7 883.7 1743.2 884.4 1743.7 885.1 1744.2 885.7 1744.7 886.3 1745.2 886.7" fill="none" stroke="#c4b040" stroke-width="2.2" stroke-linejoin="round"/>
<path d="M1707.2 886.9 L1707.2 886.5 1707.7 886.4 1708.2 886.3 1708.7 886.2 1709.2 886.1 1709.7 886 1710.2 885.8 1710.7 885.6 1711.2 885.4 1711.7 885.1 1712.2 884.8 1712.7 884.5 1713.2 884.1 1713.7 883.7 1714.2 883.1 1714.7 882.6 1715.2 881.9 1715.7 881.2 1716.2 880.4 1716.7 879.5 1717.2 878.5 1717.7 877.4 1718.2 876.2 1718.7 874.9 1719.2 873.4 1719.7 871.9 1720.2 870.1 1720.7 868.2 1721.2 866.2 1721.7 864 1722.2 861.7 1722.7 859.2 1723.2 856.5 1723.7 853.7 1724.2 850.7 1724.7 847.6 1725.2 844.3 1725.7 840.9 1726.2 837.4 1726.7 833.7 1727.2 829.9 1727.7 826.1 1728.2 822.1 1728.7 818.1 1729.2 814.1 1729.7 810.1 1730.2 806 1730.7 802 1731.2 798.1 1731.7 794.2 1732.2 790.5 1732.7 786.9 1733.2 783.5 1733.7 780.2 1734.2 777.2 1734.7 774.4 1735.2 771.9 1735.7 769.6 1736.2 767.7 1736.7 766 1737.2 764.7 1737.7 763.8 1738.2 763.2 1738.7 762.9 1739.2 763 1739.7 763.5 1740.2 764.3 1740.7 765.5 1741.2 767 1741.7 768.8 1742.2 770.9 1742.7 773.3 1743.2 776 1743.7 779 1744.2 782.1 1744.7 785.5 1745.2 789 1745.7 792.7 1746.2 796.5 1746.7 800.5 1747.2 804.4 1747.7 808.5 1748.2 812.5 1748.7 816.5 1749.2 820.5 1749.7 824.5 1750.2 828.4 1750.7 832.2 1751.2 835.9 1751.7 839.5 1752.2 843 1752.7 846.3 1753.2 849.5 1753.7 852.5 1754.2 855.4 1754.7 858.1 1755.2 860.7 1755.7 863.1 1756.2 865.4 1756.7 867.4 1757.2 869.4 1757.7 871.2 1758.2 872.8 1758.7 874.3 1759.2 875.7 1759.7 877 1760.2 878.1 1760.7 879.2 1761.2 880.1 1761.7 880.9 1762.2 881.7 1762.7 882.3 1763.2 882.9 1763.7 883.5 1764.2 883.9 1764.7 884.3 1765.2 884.7 1765.7 885 1766.2 885.3 1766.7 885.5 1767.2 885.7 1767.7 885.9 1768.2 886.1 1768.7 886.2 1769.2 886.3 1769.7 886.4 1770.2 886.5 1770.7 886.6 L1770.7 886.9 Z" fill="#00ff00" fill-opacity="0.31"/>
<path d="M1707.2 886.5 1707.7 886.4 1708.2 886.3 1708.7 886.2 1709.2 886.1 1709.7 886 1710.2 885.8 1710.7 885.6 1711.2 885.4 1711.7 885.1 1712.2 884.8 1712.7 884.5 1713.2 884.1 1713.7 883.7 1714.2 883.1 1714.7 882.6 1715.2 881.9 1715.7 881.2 1716.2 880.4 1716.7 879.5 1717.2 878.5 1717.7 877.4 1718.2 876.2 1718.7 874.9 1719.2 873.4 1719.7 871.9 1720.2 870.1 1720.7 868.2 1721.2 866.2 1721.7 864 1722.2 861.7 1722.7 859.2 1723.2 856.5 1723.7 853.7 1724.2 850.7 1724.7 847.6 1725.2 844.3 1725.7 840.9 1726.2 837.4 1726.7 833.7 1727.2 829.9 1727.7 826.1 1728.2 822.1 1728.7 818.1 1729.2 814.1 1729.7 810.1 1730.2 806 1730.7 802 1731.2 798.1 1731.7 794.2 1732.2 790.5 1732.7 786.9 1733.2 783.5 1733.7 780.2 1734.2 777.2 1734.7 774.4 1735.2 771.9 1735.7 769.6 1736.2 767.7 1736.7 766 1737.2 764.7 1737.7 763.8 1738.2 763.2 1738.7 762.9 1739.2 763 1739.7 763.5 1740.2 764.3 1740.7 765.5 1741.2 767 1741.7 768.8 1742.2 770.9 1742.7 773.3 1743.2 776 1743.7 779 1744.2 782.1 1744.7 785.5 1745.2 789 1745.7 792.7 1746.2 796.5 1746.7 800.5 1747.2 804.4 1747.7 808.5 1748.2 812.5 1748.7 816.5 1749.2 820.5 1749.7 824.5 1750.2 828.4 1750.7 832.2 1751.2 835.9 1751.7 839.5 1752.2 843 1752.7 846.3 1753.2 849.5 1753.7 852.5 1754.2 855.4 1754.7 858.1 1755.2 860.7 1755.7 863.1 1756.2 865.4 1756.7 867.4 1757.2 869.4 1757.7 871.2 1758.2 872.8 1758.7 874.3 1759.2 875.7 1759.7 877 1760.2 878.1 1760.7 879.2 1761.2 880.1 1761.7 880.9 1762.2 881.7 1762.7 882.3 1763.2 882.9 1763.7 883.5 1764.2 883.9 1764.7 884.3 1765.2 884.7 1765.7 885 1766.2 885.3 1766.7 885.5 1767.2 885.7 1767.7 885.9 1768.2 886.1 1768.7 886.2 1769.2 886.3 1769.7 886.4 1770.2 886.5 1770.7 886.6" fill="none" stroke="#10ee10" stroke-width="2.4" stroke-linejoin="round"/>
<path d="M1558.2 885.4 1558.7 885.4 1559.2 885.4 1559.7 885.3 1560.2 885.2 1560.7 884.9 1561.2 884.6 1561.7 884.3 1562.2 883.8 1562.7 883.4 1563.2 882.9 1563.7 882.5 1564.2 882 1564.7 881.5 1565.2 881 1565.7 880.3 1566.2 879.5 1566.7 878.6 1567.2 877.5 1567.7 876.4 1568.2 875.3 1568.7 874.2 1569.2 873 1569.7 871.7 1570.2 870.2 1570.7 868.3 1571.2 865.7 1571.7 862.2 1572.2 857.8 1572.7 852.6 1573.2 846.9 1573.7 840.8 1574.2 834.5 1574.7 827.8 1575.2 820.5 1575.7 812.5 1576.2 803.7 1576.7 794.4 1577.2 784.7 1577.7 774.6 1578.2 763.8 1578.7 751.7 1579.2 737.5 1579.7 720.9 1580.2 701.9 1580.7 680.9 1581.2 658.6 1581.7 635.4 1582.2 611.4 1582.7 586.7 1583.2 561.2 1583.7 535.2 1584.2 509 1584.7 483.1 1585.2 457.7 1585.7 432.9 1586.2 409 1586.7 386.1 1587.2 364.8 1587.7 345.4 1588.2 328.2 1588.7 313.5 1589.2 301.5 1589.7 292.6 1590.2 287 1590.7 284.6 1591.2 285.5 1591.7 289.6 1592.2 296.7 1592.7 306.7 1593.2 319.1 1593.7 333.1 1594.2 348.4 1594.7 364.6 1595.2 381.6 1595.7 399 1596.2 416.8 1596.7 434.8 1597.2 453 1597.7 471.2 1598.2 489.5 1598.7 508 1599.2 526.6 1599.7 545.6 1600.2 565 1600.7 584.8 1601.2 604.7 1601.7 624.6 1602.2 643.8 1602.7 661.9 1603.2 678.5 1603.7 693.5 1604.2 707.2 1604.7 720 1605.2 732.2 1605.7 743.8 1606.2 754.7 1606.7 765 1607.2 774.6 1607.7 783.6 1608.2 792.1 1608.7 799.8 1609.2 806.3 1609.7 811.7 1610.2 815.8 1610.7 819.2 1611.2 822 1611.7 824.6 1612.2 827.1 1612.7 829.4 1613.2 831.6 1613.7 833.3 1614.2 834.6 1614.7 835.4 1615.2 835.9 1615.7 836.1 1616.2 836.1 1616.7 836.1 1617.2 836.1 1617.7 836.1 1618.2 836.1 1618.7 836.1 1619.2 836.1 1619.7 836 1620.2 836 1620.7 836 1621.2 836 1621.7 836 1622.2 836 1622.7 836 1623.2 836 1623.7 836 1624.2 836.1 1624.7 836.4 1625.2 836.8 1625.7 837.3 1626.2 838 1626.7 838.8 1627.2 839.6 1627.7 840.4 1628.2 841.3 1628.7 842.1 1629.2 843 1629.7 843.8 1630.2 844.7 1630.7 845.5 1631.2 846.3 1631.7 847.2 1632.2 848 1632.7 848.8 1633.2 849.6 1633.7 850.4 1634.2 851 1634.7 851.4 1635.2 851.7 1635.7 851.9 1636.2 852.1 1636.7 852.1 1637.2 852.2 1637.7 852.2 1638.2 852.3 1638.7 852.4 1639.2 852.4 1639.7 852.5 1640.2 852.5 1640.7 852.6 1641.2 852.6 1641.7 852.7 1642.2 852.7 1642.7 852.8 1643.2 852.8 1643.7 852.9 1644.2 852.9 1644.7 853 1645.2 853.1 1645.7 853.1 1646.2 853.2 1646.7 853.2 1647.2 853.3 1647.7 853.3 1648.2 853.4 1648.7 853.4 1649.2 853.5 1649.7 853.6 1650.2 853.7 1650.7 853.8 1651.2 854 1651.7 854.2 1652.2 854.4 1652.7 854.6 1653.2 854.8 1653.7 855 1654.2 855.2 1654.7 855.4 1655.2 855.6 1655.7 855.8 1656.2 856 1656.7 856.2 1657.2 856.4 1657.7 856.6 1658.2 856.8 1658.7 857 1659.2 857.2 1659.7 857.4 1660.2 857.6 1660.7 857.8 1661.2 858 1661.7 858.2 1662.2 858.4 1662.7 858.6 1663.2 858.8 1663.7 859 1664.2 859.2 1664.7 859.4 1665.2 859.6 1665.7 859.8 1666.2 859.9 1666.7 860.1 1667.2 860.3 1667.7 860.4 1668.2 860.6 1668.7 860.7 1669.2 860.9 1669.7 861 1670.2 861.1 1670.7 861.3 1671.2 861.4 1671.7 861.6 1672.2 861.7 1672.7 861.9 1673.2 862 1673.7 862.2 1674.2 862.3 1674.7 862.5 1675.2 862.6 1675.7 862.8 1676.2 862.9 1676.7 863.1 1677.2 863.2 1677.7 863.4 1678.2 863.5 1678.7 863.7 1679.2 863.8 1679.7 864 1680.2 864.1 1680.7 864.3 1681.2 864.4 1681.7 864.6 1682.2 864.7 1682.7 864.9 1683.2 865 1683.7 865.1 1684.2 865.3 1684.7 865.4 1685.2 865.6 1685.7 865.7 1686.2 865.8 1686.7 866 1687.2 866.1 1687.7 866.3 1688.2 866.4 1688.7 866.5 1689.2 866.7 1689.7 866.8 1690.2 867 1690.7 867.1 1691.2 867.2 1691.7 867.3 1692.2 867.2 1692.7 867 1693.2 866.6 1693.7 866 1694.2 865.3 1694.7 864.5 1695.2 863.7 1695.7 862.9 1696.2 862 1696.7 861.2 1697.2 860.4 1697.7 859.6 1698.2 858.7 1698.7 857.9 1699.2 857.1 1699.7 856.2 1700.2 855.4 1700.7 854.6 1701.2 853.9 1701.7 853.2 1702.2 852.7 1702.7 852.4 1703.2 852.3 1703.7 852.3 1704.2 852.3 1704.7 852.4 1705.2 852.5 1705.7 852.7 1706.2 852.8 1706.7 852.9 1707.2 853 1707.7 853.1 1708.2 853.2 1708.7 853.3 1709.2 853.3 1709.7 853.2 1710.2 853 1710.7 852.7 1711.2 852.3 1711.7 851.9 1712.2 851.4 1712.7 850.9 1713.2 850.4 1713.7 849.9 1714.2 849.5 1714.7 849 1715.2 848.5 1715.7 848 1716.2 847.4 1716.7 846.8 1717.2 846.1 1717.7 845.1 1718.2 843.9 1718.7 842.3 1719.2 840.6 1719.7 838.6 1720.2 836.6 1720.7 834.5 1721.2 832.5 1721.7 830.4 1722.2 828.3 1722.7 826.3 1723.2 824.2 1723.7 822.1 1724.2 820 1724.7 817.8 1725.2 815.4 1725.7 812.6 1726.2 809.5 1726.7 806 1727.2 802.1 1727.7 798 1728.2 793.7 1728.7 789.5 1729.2 785.4 1729.7 781.4 1730.2 777.8 1730.7 774.6 1731.2 771.9 1731.7 769.6 1732.2 767.6 1732.7 765.8 1733.2 764 1733.7 762.2 1734.2 760.4 1734.7 758.6 1735.2 756.9 1735.7 755.1 1736.2 753.5 1736.7 752 1737.2 750.9 1737.7 750.3 1738.2 750.4 1738.7 750.9 1739.2 751.8 1739.7 752.9 1740.2 754.1 1740.7 755.3 1741.2 756.5 1741.7 757.7 1742.2 759 1742.7 760.2 1743.2 761.5 1743.7 763 1744.2 764.8 1744.7 767.1 1745.2 770 1745.7 773.4 1746.2 777.3 1746.7 781.3 1747.2 785.4 1747.7 789.6 1748.2 793.8 1748.7 797.9 1749.2 801.9 1749.7 805.9 1750.2 809.7 1750.7 813.5 1751.2 817.2 1751.7 820.9 1752.2 824.6 1752.7 828.3 1753.2 832 1753.7 835.7 1754.2 839.3 1754.7 842.9 1755.2 846.3 1755.7 849.4 1756.2 852.3 1756.7 854.8 1757.2 857.1 1757.7 859.3 1758.2 861.4 1758.7 863.5 1759.2 865.6 1759.7 867.6 1760.2 869.7 1760.7 871.7 1761.2 873.5 1761.7 875.1 1762.2 876.3 1762.7 877.3 1763.2 878 1763.7 878.6 1764.2 879.1 1764.7 879.5 1765.2 879.9 1765.7 880.4 1766.2 880.8 1766.7 881.2 1767.2 881.6 1767.7 882.1 1768.2 882.5 1768.7 882.9 1769.2 883.3 1769.7 883.8 1770.2 884.2 1770.7 884.5 1771.2 884.9 1771.7 885.1 1772.2 885.3 1772.7 885.3 1773.2 885.4 1773.7 885.4" fill="none" stroke="#000" stroke-width="3.2" stroke-linejoin="round" stroke-linecap="butt"/>
<path d="M1562.2 885.4 1562.7 885.4 1563.2 885.4 1563.7 885.4 1564.2 885.4 1564.7 885.4 1565.2 885.4 1565.7 885.3 1566.2 885.3 1566.7 885.3 1567.2 885.2 1567.7 885.1 1568.2 885 1568.7 884.9 1569.2 884.7 1569.7 884.4 1570.2 884 1570.7 883.5 1571.2 882.9 1571.7 882 1572.2 880.9 1572.7 879.4 1573.2 877.5 1573.7 875.2 1574.2 872.2 1574.7 868.4 1575.2 863.9 1575.7 858.2 1576.2 851.4 1576.7 843.2 1577.2 833.4 1577.7 821.9 1578.2 808.5 1578.7 792.9 1579.2 775.1 1579.7 754.9 1580.2 732.3 1580.7 707.1 1581.2 679.4 1581.7 649.3 1582.2 617 1582.7 582.6 1583.2 546.6 1583.7 509.3 1584.2 471.2 1584.7 432.9 1585.2 395 1585.7 358 1586.2 322.7 1586.7 289.3 1587.2 258.1 1587.7 229.6 1588.2 204.9 1588.7 184.7 1589.2 169.6 1589.7 159.6 1590.2 154.3 1590.7 153.8 1591.2 158.3 1591.7 167.9 1592.2 182.3 1592.7 201.1 1593.2 223.3 1593.7 247.8 1594.2 273.8 1594.7 300.9 1595.2 329.2 1595.7 358.7 1596.2 389.4 1596.7 420.8 1597.2 451.9 1597.7 481.7 1598.2 509.6 1598.7 535.3 1599.2 558.9 1599.7 580.9 1600.2 601.8 1600.7 621.6 1601.2 639.6 1601.7 655.6 1602.2 669.9 1602.7 683.4 1603.2 697.4 1603.7 712.2 1604.2 727.1 1604.7 741.2 1605.2 754.4 1605.7 767.2 1606.2 780 1606.7 792.8 1607.2 805 1607.7 814.9 1608.2 821.7 1608.7 826.2 1609.2 829.8 1609.7 832.7 1610.2 835 1610.7 836.5 1611.2 837.6 1611.7 838.6 1612.2 839.4 1612.7 840.3 1613.2 841 1613.7 841.6 1614.2 841.9 1614.7 841.9 1615.2 841.7 1615.7 841.5 1616.2 841.2 1616.7 840.9 1617.2 840.6 1617.7 840.4 1618.2 840.1 1618.7 839.8 1619.2 839.6 1619.7 839.3 1620.2 839 1620.7 838.7 1621.2 838.5 1621.7 838.2 1622.2 837.9 1622.7 837.7 1623.2 837.4 1623.7 837.1 1624.2 836.9 1624.7 836.9 1625.2 837.2 1625.7 837.9 1626.2 838.7 1626.7 839.7 1627.2 840.7 1627.7 841.6 1628.2 842.6 1628.7 843.6 1629.2 844.6 1629.7 845.7 1630.2 846.9 1630.7 848.1 1631.2 849.5 1631.7 850.8 1632.2 852.2 1632.7 853.5 1633.2 854.9 1633.7 856.1 1634.2 857 1634.7 857.3 1635.2 856.8 1635.7 856 1636.2 855 1636.7 854 1637.2 853 1637.7 851.9 1638.2 850.9 1638.7 849.9 1639.2 848.9 1639.7 847.9 1640.2 847.1 1640.7 846.7 1641.2 846.9 1641.7 847.6 1642.2 848.5 1642.7 849.5 1643.2 850.5 1643.7 851.5 1644.2 852.6 1644.7 853.6 1645.2 854.6 1645.7 855.6 1646.2 856.5 1646.7 857.4 1647.2 857.9 1647.7 858.1 1648.2 858 1648.7 857.8 1649.2 857.6 1649.7 857.4 1650.2 857.2 1650.7 857 1651.2 856.8 1651.7 856.7 1652.2 856.5 1652.7 856.3 1653.2 856.1 1653.7 855.9 1654.2 855.8 1654.7 855.8 1655.2 856.1 1655.7 856.7 1656.2 857.5 1656.7 858.4 1657.2 859.2 1657.7 860.1 1658.2 861 1658.7 861.9 1659.2 862.7 1659.7 863.6 1660.2 864.5 1660.7 865.2 1661.2 865.7 1661.7 865.7 1662.2 865.4 1662.7 865 1663.2 864.5 1663.7 864 1664.2 863.5 1664.7 863 1665.2 862.5 1665.7 861.9 1666.2 861.4 1666.7 860.9 1667.2 860.4 1667.7 859.9 1668.2 859.4 1668.7 859 1669.2 858.7 1669.7 858.6 1670.2 858.6 1670.7 858.7 1671.2 858.8 1671.7 858.9 1672.2 859 1672.7 859.1 1673.2 859.2 1673.7 859.3 1674.2 859.4 1674.7 859.5 1675.2 859.6 1675.7 859.7 1676.2 859.8 1676.7 860 1677.2 860.4 1677.7 860.9 1678.2 861.5 1678.7 862.2 1679.2 862.9 1679.7 863.6 1680.2 864.2 1680.7 864.9 1681.2 865.5 1681.7 866.1 1682.2 866.5 1682.7 866.8 1683.2 867.1 1683.7 867.3 1684.2 867.5 1684.7 867.8 1685.2 868 1685.7 868.2 1686.2 868.5 1686.7 868.7 1687.2 869 1687.7 869.2 1688.2 869.4 1688.7 869.7 1689.2 869.9 1689.7 870.1 1690.2 870.4 1690.7 870.5 1691.2 870.4 1691.7 869.9 1692.2 869 1692.7 868.1 1693.2 867.1 1693.7 866 1694.2 865 1694.7 864 1695.2 863 1695.7 862 1696.2 861 1696.7 860 1697.2 859 1697.7 858 1698.2 856.9 1698.7 855.9 1699.2 854.9 1699.7 853.9 1700.2 853.1 1700.7 852.7 1701.2 852.9 1701.7 853.5 1702.2 854.3 1702.7 855 1703.2 855.8 1703.7 856.6 1704.2 857.4 1704.7 858.2 1705.2 859 1705.7 859.7 1706.2 860.5 1706.7 861.2 1707.2 862 1707.7 862.6 1708.2 863.2 1708.7 863.4 1709.2 863.1 1709.7 862.6 1710.2 862 1710.7 861.3 1711.2 860.6 1711.7 859.8 1712.2 859.1 1712.7 858.2 1713.2 857.4 1713.7 856.4 1714.2 855.4 1714.7 854.4 1715.2 853.2 1715.7 852 1716.2 850.7 1716.7 849.3 1717.2 847.9 1717.7 846.3 1718.2 844.8 1718.7 843.3 1719.2 841.7 1719.7 840.1 1720.2 838.3 1720.7 836.3 1721.2 834.2 1721.7 831.9 1722.2 829.5 1722.7 826.9 1723.2 824.2 1723.7 821.4 1724.2 818.6 1724.7 815.7 1725.2 812.8 1725.7 809.8 1726.2 806.6 1726.7 803.4 1727.2 800 1727.7 796.5 1728.2 793 1728.7 789.5 1729.2 786.1 1729.7 782.8 1730.2 779.5 1730.7 776.4 1731.2 773.3 1731.7 770.2 1732.2 767.3 1732.7 764.6 1733.2 762 1733.7 759.5 1734.2 757.4 1734.7 755.4 1735.2 753.8 1735.7 752.5 1736.2 751.6 1736.7 750.9 1737.2 750.6 1737.7 750.7 1738.2 751.1 1738.7 751.8 1739.2 752.9 1739.7 754.3 1740.2 756 1740.7 757.9 1741.2 760.1 1741.7 762.7 1742.2 765.5 1742.7 768.6 1743.2 772 1743.7 775.6 1744.2 779.5 1744.7 783.4 1745.2 787.3 1745.7 791.2 1746.2 795 1746.7 799 1747.2 802.9 1747.7 807 1748.2 811 1748.7 815 1749.2 819 1749.7 823 1750.2 826.9 1750.7 830.7 1751.2 834.4 1751.7 838 1752.2 841.5 1752.7 844.8 1753.2 848 1753.7 851 1754.2 853.9 1754.7 856.6 1755.2 859.2 1755.7 861.6 1756.2 863.9 1756.7 865.9 1757.2 867.9 1757.7 869.7 1758.2 871.3 1758.7 872.8 1759.2 874.2 1759.7 875.5 1760.2 876.6 1760.7 877.7 1761.2 878.6 1761.7 879.4 1762.2 880.2 1762.7 880.8 1763.2 881.4 1763.7 882 1764.2 882.4 1764.7 882.8 1765.2 883.2 1765.7 883.5 1766.2 883.8 1766.7 884 1767.2 884.2 1767.7 884.4 1768.2 884.6 1768.7 884.7 1769.2 884.8 1769.7 884.9" fill="none" stroke="#ff00ff" stroke-width="4.0" stroke-linejoin="round" stroke-linecap="butt"/>
</g>
<line x1="1436.8" y1="885.4" x2="1564" y2="885.4" stroke="#e29fe2" stroke-width="2.6"/>
<line x1="1768" y1="885.4" x2="2211.4" y2="885.4" stroke="#e29fe2" stroke-width="2.6"/>
<line x1="1432.6" y1="108.8" x2="2215.5" y2="108.8" stroke="#000" stroke-width="3.9"/>
<line x1="1432.6" y1="888.3" x2="2215.5" y2="888.3" stroke="#000" stroke-width="3.2"/>
<line x1="1434.7" y1="108.8" x2="1434.7" y2="888.3" stroke="#000" stroke-width="4.2"/>
<line x1="2213.4" y1="108.8" x2="2213.4" y2="888.3" stroke="#000" stroke-width="4.1"/>
<line x1="1413" y1="120" x2="1433.1" y2="120" stroke="#000" stroke-width="5.8"/>
<text transform="translate(1398.4 146.2) scale(0.94 1)" font-size="45" text-anchor="end" font-weight="bold">500</text>
<line x1="1424.7" y1="159.9" x2="1433.1" y2="159.9" stroke="#000" stroke-width="3.4"/>
<line x1="1424.7" y1="197" x2="1433.1" y2="197" stroke="#000" stroke-width="2.4"/>
<line x1="1424.7" y1="235.2" x2="1433.1" y2="235.2" stroke="#000" stroke-width="3.4"/>
<line x1="1413" y1="271.2" x2="1433.1" y2="271.2" stroke="#000" stroke-width="5.8"/>
<text transform="translate(1398.4 289.7) scale(0.94 1)" font-size="45" text-anchor="end" font-weight="bold">400</text>
<line x1="1424.7" y1="311.4" x2="1433.1" y2="311.4" stroke="#000" stroke-width="3.4"/>
<line x1="1424.7" y1="348.8" x2="1433.1" y2="348.8" stroke="#000" stroke-width="2.4"/>
<line x1="1424.7" y1="387.3" x2="1433.1" y2="387.3" stroke="#000" stroke-width="3.4"/>
<line x1="1413" y1="423.6" x2="1433.1" y2="423.6" stroke="#000" stroke-width="5.8"/>
<text transform="translate(1398.4 442) scale(0.94 1)" font-size="45" text-anchor="end" font-weight="bold">300</text>
<line x1="1424.7" y1="464.8" x2="1433.1" y2="464.8" stroke="#000" stroke-width="3.4"/>
<line x1="1424.7" y1="503" x2="1433.1" y2="503" stroke="#000" stroke-width="2.4"/>
<line x1="1424.7" y1="542.5" x2="1433.1" y2="542.5" stroke="#000" stroke-width="3.4"/>
<line x1="1413" y1="579.6" x2="1433.1" y2="579.6" stroke="#000" stroke-width="5.8"/>
<text transform="translate(1398.4 597.5) scale(0.94 1)" font-size="45" text-anchor="end" font-weight="bold">200</text>
<line x1="1424.7" y1="619.6" x2="1433.1" y2="619.6" stroke="#000" stroke-width="3.4"/>
<line x1="1424.7" y1="656.8" x2="1433.1" y2="656.8" stroke="#000" stroke-width="2.4"/>
<line x1="1424.7" y1="695.2" x2="1433.1" y2="695.2" stroke="#000" stroke-width="3.4"/>
<line x1="1413" y1="731.3" x2="1433.1" y2="731.3" stroke="#000" stroke-width="5.8"/>
<text transform="translate(1398.4 750.7) scale(0.94 1)" font-size="45" text-anchor="end" font-weight="bold">100</text>
<line x1="1424.7" y1="771.5" x2="1433.1" y2="771.5" stroke="#000" stroke-width="3.4"/>
<line x1="1424.7" y1="808.8" x2="1433.1" y2="808.8" stroke="#000" stroke-width="2.4"/>
<line x1="1424.7" y1="847.4" x2="1433.1" y2="847.4" stroke="#000" stroke-width="3.4"/>
<line x1="1413" y1="883.6" x2="1433.1" y2="883.6" stroke="#000" stroke-width="5.8"/>
<text transform="translate(1398.4 884.7) scale(0.94 1)" font-size="45" text-anchor="end" font-weight="bold">0</text>
<line x1="1435.7" y1="888.3" x2="1435.7" y2="907.8" stroke="#000" stroke-width="5.9"/>
<line x1="1488.3" y1="888.3" x2="1488.3" y2="898.4" stroke="#000" stroke-width="3"/>
<line x1="1540.8" y1="888.3" x2="1540.8" y2="898.4" stroke="#000" stroke-width="3"/>
<line x1="1593.4" y1="888.3" x2="1593.4" y2="898.4" stroke="#000" stroke-width="3"/>
<line x1="1646" y1="888.3" x2="1646" y2="907.8" stroke="#000" stroke-width="5.9"/>
<line x1="1698.5" y1="888.3" x2="1698.5" y2="898.4" stroke="#000" stroke-width="3"/>
<line x1="1751.1" y1="888.3" x2="1751.1" y2="898.4" stroke="#000" stroke-width="3"/>
<line x1="1803.7" y1="888.3" x2="1803.7" y2="898.4" stroke="#000" stroke-width="3"/>
<line x1="1856.2" y1="888.3" x2="1856.2" y2="907.8" stroke="#000" stroke-width="5.9"/>
<line x1="1907.8" y1="888.3" x2="1907.8" y2="898.4" stroke="#000" stroke-width="3"/>
<line x1="1959.4" y1="888.3" x2="1959.4" y2="898.4" stroke="#000" stroke-width="3"/>
<line x1="2011" y1="888.3" x2="2011" y2="898.4" stroke="#000" stroke-width="3"/>
<line x1="2062.6" y1="888.3" x2="2062.6" y2="907.8" stroke="#000" stroke-width="5.9"/>
<line x1="2114.2" y1="888.3" x2="2114.2" y2="898.4" stroke="#000" stroke-width="3"/>
<line x1="2165.8" y1="888.3" x2="2165.8" y2="898.4" stroke="#000" stroke-width="3"/>
<text transform="translate(1431 950.4) scale(0.94 1)" font-size="45" text-anchor="start" font-weight="bold">0</text>
<text transform="translate(1647 950.4) scale(0.94 1)" font-size="45" text-anchor="middle" font-weight="bold">200K</text>
<text transform="translate(1856.4 950.4) scale(0.94 1)" font-size="45" text-anchor="middle" font-weight="bold">400K</text>
<text transform="translate(2064 950.4) scale(0.94 1)" font-size="45" text-anchor="middle" font-weight="bold">600K</text>
<text x="1860" y="80.1" font-size="77" text-anchor="middle" font-weight="bold">3.0 μM</text>
<text x="1820.5" y="1057.6" font-size="54.5" text-anchor="middle" font-weight="bold">PI-A</text>
<text transform="translate(1256.5 493.6) rotate(-90)" font-size="56" font-weight="bold" text-anchor="middle">Count</text>
<text x="1872.6" y="272.5" font-size="55"><tspan font-weight="bold">%G1</tspan> : 45.0</text>
<text x="1872.6" y="338.6" font-size="55"><tspan font-weight="bold">%S</tspan> : 34.2</text>
<text x="1872.6" y="406.5" font-size="55"><tspan font-weight="bold">%G2</tspan> : 16.4</text>
</g>
<g>
<g clip-path="url(#clip_6_0)">
<path d="M410.6 2006.5 L410.6 2006.1 411.1 2006 411.6 2005.8 412.1 2005.5 412.6 2005.2 413.1 2004.7 413.6 2004.1 414.1 2003.4 414.6 2002.3 415.1 2001 415.6 1999.4 416.1 1997.3 416.6 1994.7 417.1 1991.4 417.6 1987.5 418.1 1982.6 418.6 1976.7 419.1 1969.7 419.6 1961.3 420.1 1951.4 420.6 1939.9 421.1 1926.5 421.6 1911.1 422.1 1893.7 422.6 1874.1 423.1 1852.2 423.6 1828 424.1 1801.5 424.6 1772.8 425.1 1742.2 425.6 1709.7 426.1 1675.7 426.6 1640.5 427.1 1604.5 427.6 1568.3 428.1 1532.4 428.6 1497.4 429.1 1463.8 429.6 1432.2 430.1 1403.4 430.6 1377.7 431.1 1355.9 431.6 1338.2 432.1 1325.2 432.6 1317 433.1 1314 433.6 1316 434.1 1323.2 434.6 1335.2 435.1 1352 435.6 1373 436.1 1398 436.6 1426.2 437.1 1457.3 437.6 1490.5 438.1 1525.3 438.6 1561.1 439.1 1597.3 439.6 1633.3 440.1 1668.7 440.6 1703 441.1 1735.8 441.6 1766.9 442.1 1795.9 442.6 1822.8 443.1 1847.5 443.6 1869.9 444.1 1890 444.6 1907.8 445.1 1923.6 445.6 1937.3 446.1 1949.2 446.6 1959.4 447.1 1968.1 447.6 1975.4 448.1 1981.5 448.6 1986.6 449.1 1990.7 449.6 1994.1 450.1 1996.8 450.6 1999 451.1 2000.7 451.6 2002.1 452.1 2003.2 452.6 2004 453.1 2004.6 453.6 2005.1 454.1 2005.5 454.6 2005.8 455.1 2006 455.6 2006.1 L455.6 2006.5 Z" fill="#0000ff" fill-opacity="0.31"/>
<path d="M410.6 2006.1 411.1 2006 411.6 2005.8 412.1 2005.5 412.6 2005.2 413.1 2004.7 413.6 2004.1 414.1 2003.4 414.6 2002.3 415.1 2001 415.6 1999.4 416.1 1997.3 416.6 1994.7 417.1 1991.4 417.6 1987.5 418.1 1982.6 418.6 1976.7 419.1 1969.7 419.6 1961.3 420.1 1951.4 420.6 1939.9 421.1 1926.5 421.6 1911.1 422.1 1893.7 422.6 1874.1 423.1 1852.2 423.6 1828 424.1 1801.5 424.6 1772.8 425.1 1742.2 425.6 1709.7 426.1 1675.7 426.6 1640.5 427.1 1604.5 427.6 1568.3 428.1 1532.4 428.6 1497.4 429.1 1463.8 429.6 1432.2 430.1 1403.4 430.6 1377.7 431.1 1355.9 431.6 1338.2 432.1 1325.2 432.6 1317 433.1 1314 433.6 1316 434.1 1323.2 434.6 1335.2 435.1 1352 435.6 1373 436.1 1398 436.6 1426.2 437.1 1457.3 437.6 1490.5 438.1 1525.3 438.6 1561.1 439.1 1597.3 439.6 1633.3 440.1 1668.7 440.6 1703 441.1 1735.8 441.6 1766.9 442.1 1795.9 442.6 1822.8 443.1 1847.5 443.6 1869.9 444.1 1890 444.6 1907.8 445.1 1923.6 445.6 1937.3 446.1 1949.2 446.6 1959.4 447.1 1968.1 447.6 1975.4 448.1 1981.5 448.6 1986.6 449.1 1990.7 449.6 1994.1 450.1 1996.8 450.6 1999 451.1 2000.7 451.6 2002.1 452.1 2003.2 452.6 2004 453.1 2004.6 453.6 2005.1 454.1 2005.5 454.6 2005.8 455.1 2006 455.6 2006.1" fill="none" stroke="#2210ff" stroke-width="3.0" stroke-linejoin="round"/>
<path d="M428.1 2006.5 L428.1 2006.3 428.6 2005.3 429.1 2002.8 429.6 1999 430.1 1994.7 430.6 1990.3 431.1 1985.9 431.6 1981.6 432.1 1977.2 432.6 1972.8 433.1 1968.4 433.6 1964.1 434.1 1959.9 434.6 1956.1 435.1 1952.7 435.6 1949.4 436.1 1946.1 436.6 1942.9 437.1 1939.6 437.6 1936.3 438.1 1933.1 438.6 1929.8 439.1 1926.6 439.6 1923.3 440.1 1920.2 440.6 1917.4 441.1 1915.3 441.6 1913.6 442.1 1912.1 442.6 1910.6 443.1 1909.2 443.6 1908.1 444.1 1908.1 444.6 1909.3 445.1 1911.1 445.6 1913.1 446.1 1915.1 446.6 1917.4 447.1 1920.2 447.6 1923.7 448.1 1927.5 448.6 1931.3 449.1 1934.7 449.6 1937.2 450.1 1939 450.6 1940.5 451.1 1942 451.6 1943.5 452.1 1945 452.6 1946.5 453.1 1948 453.6 1949.4 454.1 1950.8 454.6 1952.2 455.1 1953.5 455.6 1954.8 456.1 1956 456.6 1957.3 457.1 1958.6 457.6 1959.9 458.1 1961.2 458.6 1962.5 459.1 1963.8 459.6 1965 460.1 1966.1 460.6 1966.9 461.1 1967.3 461.6 1967.5 462.1 1967.7 462.6 1967.9 463.1 1968.1 463.6 1968.3 464.1 1968.5 464.6 1968.7 465.1 1968.9 465.6 1969.2 466.1 1969.4 466.6 1969.6 467.1 1969.8 467.6 1970 468.1 1970.2 468.6 1970.4 469.1 1970.6 469.6 1970.8 470.1 1970.9 470.6 1971.1 471.1 1971.3 471.6 1971.5 472.1 1971.7 472.6 1971.9 473.1 1972.1 473.6 1972.3 474.1 1972.5 474.6 1972.6 475.1 1972.8 475.6 1973 476.1 1973.1 476.6 1973.2 477.1 1973.2 477.6 1973.2 478.1 1973.2 478.6 1973.2 479.1 1973.2 479.6 1973.2 480.1 1973.2 480.6 1973.2 481.1 1973.2 481.6 1973.3 482.1 1973.8 482.6 1975.1 483.1 1977.3 483.6 1979.8 484.1 1982.3 484.6 1984.4 485.1 1985.5 485.6 1985.8 486.1 1985.9 486.6 1985.9 487.1 1985.9 487.6 1985.9 488.1 1985.9 488.6 1985.9 489.1 1985.9 489.6 1985.9 490.1 1985.9 490.6 1985.9 491.1 1985.9 491.6 1985.9 492.1 1985.9 492.6 1985.9 493.1 1985.9 493.6 1985.9 494.1 1985.9 494.6 1985.9 495.1 1985.9 495.6 1985.9 496.1 1985.9 496.6 1985.9 497.1 1985.9 497.6 1985.8 498.1 1985.2 498.6 1983.8 499.1 1981.9 499.6 1980.3 500.1 1979.3 500.6 1978.8 501.1 1978.4 501.6 1978 502.1 1977.6 502.6 1977.1 503.1 1976.2 503.6 1974.5 504.1 1972.4 504.6 1971.9 505.1 1973.9 505.6 1976.7 506.1 1978.8 506.6 1979.7 507.1 1980.1 507.6 1980.3 508.1 1980.6 508.6 1980.8 509.1 1981.1 509.6 1981.4 510.1 1981.6 510.6 1981.9 511.1 1982.1 511.6 1982.4 512.1 1982.6 512.6 1982.7 513.1 1982.7 513.6 1982.7 514.1 1982.7 514.6 1982.7 515.1 1982.7 515.6 1982.7 516.1 1982.7 516.6 1982.7 517.1 1982.7 517.6 1982.7 518.1 1982.7 518.6 1982.7 519.1 1982.7 519.6 1982.8 520.1 1983.3 520.6 1984.4 521.1 1986 521.6 1987.7 522.1 1989.5 522.6 1991.1 523.1 1992.6 523.6 1993.4 524.1 1993.7 524.6 1993.8 525.1 1993.8 525.6 1993.8 526.1 1993.8 526.6 1993.8 527.1 1993.8 527.6 1993.8 528.1 1993.8 528.6 1993.8 529.1 1993.8 529.6 1993.8 530.1 1993.8 530.6 1993.8 531.1 1993.8 531.6 1993.8 532.1 1993.8 532.6 1993.8 533.1 1993.8 533.6 1993.8 534.1 1993.8 534.6 1993.8 535.1 1993.8 535.6 1993.5 536.1 1992.6 536.6 1991.1 537.1 1989.1 537.6 1987.1 538.1 1985.1 538.6 1983.2 539.1 1981.7 539.6 1980.9 540.1 1980.4 540.6 1980 541.1 1979.6 541.6 1979.2 542.1 1978.8 542.6 1978.4 543.1 1978 543.6 1977.6 544.1 1977.2 544.6 1976.8 545.1 1976.4 545.6 1976 546.1 1975.6 546.6 1975.2 547.1 1974.9 547.6 1974.7 548.1 1974.5 548.6 1974.3 549.1 1974.1 549.6 1974 550.1 1973.8 550.6 1973.6 551.1 1973.4 551.6 1973.2 552.1 1973.1 552.6 1972.9 553.1 1972.7 553.6 1972.5 554.1 1972.3 554.6 1972.2 555.1 1972 555.6 1971.8 556.1 1971.6 556.6 1971.4 557.1 1971.1 557.6 1970.8 558.1 1970.4 558.6 1970.1 559.1 1969.8 559.6 1969.5 560.1 1969.2 560.6 1968.9 561.1 1968.8 561.6 1969 562.1 1969.5 562.6 1970 563.1 1970.5 563.6 1971.1 564.1 1971.6 564.6 1972.1 565.1 1972.6 565.6 1973.2 566.1 1973.9 566.6 1974.9 567.1 1975.9 567.6 1976.9 568.1 1977.9 568.6 1978.9 569.1 1980 569.6 1981 570.1 1982 570.6 1983 571.1 1984.1 571.6 1985.1 572.1 1986.1 572.6 1987.1 573.1 1988.2 573.6 1989.2 574.1 1990.2 574.6 1991.1 575.1 1992.1 575.6 1993 576.1 1994 576.6 1994.9 577.1 1995.9 577.6 1996.8 578.1 1997.8 578.6 1998.7 579.1 1999.7 579.6 2000.6 580.1 2001.6 580.6 2002.5 581.1 2003.4 581.6 2004.3 582.1 2005.2 582.6 2005.8 583.1 2006.3 L583.1 2006.5 Z" fill="#c8b400" fill-opacity="0.3"/>
<path d="M428.1 2006.3 428.6 2005.3 429.1 2002.8 429.6 1999 430.1 1994.7 430.6 1990.3 431.1 1985.9 431.6 1981.6 432.1 1977.2 432.6 1972.8 433.1 1968.4 433.6 1964.1 434.1 1959.9 434.6 1956.1 435.1 1952.7 435.6 1949.4 436.1 1946.1 436.6 1942.9 437.1 1939.6 437.6 1936.3 438.1 1933.1 438.6 1929.8 439.1 1926.6 439.6 1923.3 440.1 1920.2 440.6 1917.4 441.1 1915.3 441.6 1913.6 442.1 1912.1 442.6 1910.6 443.1 1909.2 443.6 1908.1 444.1 1908.1 444.6 1909.3 445.1 1911.1 445.6 1913.1 446.1 1915.1 446.6 1917.4 447.1 1920.2 447.6 1923.7 448.1 1927.5 448.6 1931.3 449.1 1934.7 449.6 1937.2 450.1 1939 450.6 1940.5 451.1 1942 451.6 1943.5 452.1 1945 452.6 1946.5 453.1 1948 453.6 1949.4 454.1 1950.8 454.6 1952.2 455.1 1953.5 455.6 1954.8 456.1 1956 456.6 1957.3 457.1 1958.6 457.6 1959.9 458.1 1961.2 458.6 1962.5 459.1 1963.8 459.6 1965 460.1 1966.1 460.6 1966.9 461.1 1967.3 461.6 1967.5 462.1 1967.7 462.6 1967.9 463.1 1968.1 463.6 1968.3 464.1 1968.5 464.6 1968.7 465.1 1968.9 465.6 1969.2 466.1 1969.4 466.6 1969.6 467.1 1969.8 467.6 1970 468.1 1970.2 468.6 1970.4 469.1 1970.6 469.6 1970.8 470.1 1970.9 470.6 1971.1 471.1 1971.3 471.6 1971.5 472.1 1971.7 472.6 1971.9 473.1 1972.1 473.6 1972.3 474.1 1972.5 474.6 1972.6 475.1 1972.8 475.6 1973 476.1 1973.1 476.6 1973.2 477.1 1973.2 477.6 1973.2 478.1 1973.2 478.6 1973.2 479.1 1973.2 479.6 1973.2 480.1 1973.2 480.6 1973.2 481.1 1973.2 481.6 1973.3 482.1 1973.8 482.6 1975.1 483.1 1977.3 483.6 1979.8 484.1 1982.3 484.6 1984.4 485.1 1985.5 485.6 1985.8 486.1 1985.9 486.6 1985.9 487.1 1985.9 487.6 1985.9 488.1 1985.9 488.6 1985.9 489.1 1985.9 489.6 1985.9 490.1 1985.9 490.6 1985.9 491.1 1985.9 491.6 1985.9 492.1 1985.9 492.6 1985.9 493.1 1985.9 493.6 1985.9 494.1 1985.9 494.6 1985.9 495.1 1985.9 495.6 1985.9 496.1 1985.9 496.6 1985.9 497.1 1985.9 497.6 1985.8 498.1 1985.2 498.6 1983.8 499.1 1981.9 499.6 1980.3 500.1 1979.3 500.6 1978.8 501.1 1978.4 501.6 1978 502.1 1977.6 502.6 1977.1 503.1 1976.2 503.6 1974.5 504.1 1972.4 504.6 1971.9 505.1 1973.9 505.6 1976.7 506.1 1978.8 506.6 1979.7 507.1 1980.1 507.6 1980.3 508.1 1980.6 508.6 1980.8 509.1 1981.1 509.6 1981.4 510.1 1981.6 510.6 1981.9 511.1 1982.1 511.6 1982.4 512.1 1982.6 512.6 1982.7 513.1 1982.7 513.6 1982.7 514.1 1982.7 514.6 1982.7 515.1 1982.7 515.6 1982.7 516.1 1982.7 516.6 1982.7 517.1 1982.7 517.6 1982.7 518.1 1982.7 518.6 1982.7 519.1 1982.7 519.6 1982.8 520.1 1983.3 520.6 1984.4 521.1 1986 521.6 1987.7 522.1 1989.5 522.6 1991.1 523.1 1992.6 523.6 1993.4 524.1 1993.7 524.6 1993.8 525.1 1993.8 525.6 1993.8 526.1 1993.8 526.6 1993.8 527.1 1993.8 527.6 1993.8 528.1 1993.8 528.6 1993.8 529.1 1993.8 529.6 1993.8 530.1 1993.8 530.6 1993.8 531.1 1993.8 531.6 1993.8 532.1 1993.8 532.6 1993.8 533.1 1993.8 533.6 1993.8 534.1 1993.8 534.6 1993.8 535.1 1993.8 535.6 1993.5 536.1 1992.6 536.6 1991.1 537.1 1989.1 537.6 1987.1 538.1 1985.1 538.6 1983.2 539.1 1981.7 539.6 1980.9 540.1 1980.4 540.6 1980 541.1 1979.6 541.6 1979.2 542.1 1978.8 542.6 1978.4 543.1 1978 543.6 1977.6 544.1 1977.2 544.6 1976.8 545.1 1976.4 545.6 1976 546.1 1975.6 546.6 1975.2 547.1 1974.9 547.6 1974.7 548.1 1974.5 548.6 1974.3 549.1 1974.1 549.6 1974 550.1 1973.8 550.6 1973.6 551.1 1973.4 551.6 1973.2 552.1 1973.1 552.6 1972.9 553.1 1972.7 553.6 1972.5 554.1 1972.3 554.6 1972.2 555.1 1972 555.6 1971.8 556.1 1971.6 556.6 1971.4 557.1 1971.1 557.6 1970.8 558.1 1970.4 558.6 1970.1 559.1 1969.8 559.6 1969.5 560.1 1969.2 560.6 1968.9 561.1 1968.8 561.6 1969 562.1 1969.5 562.6 1970 563.1 1970.5 563.6 1971.1 564.1 1971.6 564.6 1972.1 565.1 1972.6 565.6 1973.2 566.1 1973.9 566.6 1974.9 567.1 1975.9 567.6 1976.9 568.1 1977.9 568.6 1978.9 569.1 1980 569.6 1981 570.1 1982 570.6 1983 571.1 1984.1 571.6 1985.1 572.1 1986.1 572.6 1987.1 573.1 1988.2 573.6 1989.2 574.1 1990.2 574.6 1991.1 575.1 1992.1 575.6 1993 576.1 1994 576.6 1994.9 577.1 1995.9 577.6 1996.8 578.1 1997.8 578.6 1998.7 579.1 1999.7 579.6 2000.6 580.1 2001.6 580.6 2002.5 581.1 2003.4 581.6 2004.3 582.1 2005.2 582.6 2005.8 583.1 2006.3" fill="none" stroke="#c4b040" stroke-width="2.2" stroke-linejoin="round"/>
<path d="M547.1 2006.5 L547.1 2006.2 547.6 2006.1 548.1 2006 548.6 2005.9 549.1 2005.8 549.6 2005.7 550.1 2005.6 550.6 2005.4 551.1 2005.2 551.6 2005 552.1 2004.7 552.6 2004.4 553.1 2004.1 553.6 2003.7 554.1 2003.3 554.6 2002.9 555.1 2002.3 555.6 2001.7 556.1 2001.1 556.6 2000.3 557.1 1999.5 557.6 1998.6 558.1 1997.6 558.6 1996.5 559.1 1995.2 559.6 1993.9 560.1 1992.5 560.6 1990.9 561.1 1989.2 561.6 1987.4 562.1 1985.4 562.6 1983.3 563.1 1981 563.6 1978.6 564.1 1976 564.6 1973.4 565.1 1970.5 565.6 1967.6 566.1 1964.5 566.6 1961.2 567.1 1957.9 567.6 1954.5 568.1 1951 568.6 1947.3 569.1 1943.7 569.6 1940 570.1 1936.2 570.6 1932.4 571.1 1928.7 571.6 1925 572.1 1921.3 572.6 1917.7 573.1 1914.2 573.6 1910.9 574.1 1907.7 574.6 1904.6 575.1 1901.8 575.6 1899.1 576.1 1896.7 576.6 1894.5 577.1 1892.6 577.6 1891 578.1 1889.7 578.6 1888.7 579.1 1888 579.6 1887.6 580.1 1887.5 580.6 1887.8 581.1 1888.4 581.6 1889.2 582.1 1890.4 582.6 1891.9 583.1 1893.7 583.6 1895.8 584.1 1898.1 584.6 1900.7 585.1 1903.4 585.6 1906.4 586.1 1909.6 586.6 1912.9 587.1 1916.3 587.6 1919.9 588.1 1923.5 588.6 1927.2 589.1 1930.9 589.6 1934.7 590.1 1938.5 590.6 1942.2 591.1 1945.9 591.6 1949.5 592.1 1953.1 592.6 1956.6 593.1 1959.9 593.6 1963.2 594.1 1966.3 594.6 1969.4 595.1 1972.2 595.6 1975 596.1 1977.6 596.6 1980.1 597.1 1982.4 597.6 1984.5 598.1 1986.6 598.6 1988.5 599.1 1990.2 599.6 1991.9 600.1 1993.4 600.6 1994.7 601.1 1996 601.6 1997.1 602.1 1998.2 602.6 1999.1 603.1 2000 603.6 2000.8 604.1 2001.5 604.6 2002.1 605.1 2002.7 605.6 2003.1 606.1 2003.6 606.6 2004 607.1 2004.3 607.6 2004.6 608.1 2004.9 608.6 2005.1 609.1 2005.3 609.6 2005.5 610.1 2005.6 610.6 2005.8 611.1 2005.9 611.6 2006 612.1 2006.1 612.6 2006.1 L612.6 2006.5 Z" fill="#00ff00" fill-opacity="0.31"/>
<path d="M547.1 2006.2 547.6 2006.1 548.1 2006 548.6 2005.9 549.1 2005.8 549.6 2005.7 550.1 2005.6 550.6 2005.4 551.1 2005.2 551.6 2005 552.1 2004.7 552.6 2004.4 553.1 2004.1 553.6 2003.7 554.1 2003.3 554.6 2002.9 555.1 2002.3 555.6 2001.7 556.1 2001.1 556.6 2000.3 557.1 1999.5 557.6 1998.6 558.1 1997.6 558.6 1996.5 559.1 1995.2 559.6 1993.9 560.1 1992.5 560.6 1990.9 561.1 1989.2 561.6 1987.4 562.1 1985.4 562.6 1983.3 563.1 1981 563.6 1978.6 564.1 1976 564.6 1973.4 565.1 1970.5 565.6 1967.6 566.1 1964.5 566.6 1961.2 567.1 1957.9 567.6 1954.5 568.1 1951 568.6 1947.3 569.1 1943.7 569.6 1940 570.1 1936.2 570.6 1932.4 571.1 1928.7 571.6 1925 572.1 1921.3 572.6 1917.7 573.1 1914.2 573.6 1910.9 574.1 1907.7 574.6 1904.6 575.1 1901.8 575.6 1899.1 576.1 1896.7 576.6 1894.5 577.1 1892.6 577.6 1891 578.1 1889.7 578.6 1888.7 579.1 1888 579.6 1887.6 580.1 1887.5 580.6 1887.8 581.1 1888.4 581.6 1889.2 582.1 1890.4 582.6 1891.9 583.1 1893.7 583.6 1895.8 584.1 1898.1 584.6 1900.7 585.1 1903.4 585.6 1906.4 586.1 1909.6 586.6 1912.9 587.1 1916.3 587.6 1919.9 588.1 1923.5 588.6 1927.2 589.1 1930.9 589.6 1934.7 590.1 1938.5 590.6 1942.2 591.1 1945.9 591.6 1949.5 592.1 1953.1 592.6 1956.6 593.1 1959.9 593.6 1963.2 594.1 1966.3 594.6 1969.4 595.1 1972.2 595.6 1975 596.1 1977.6 596.6 1980.1 597.1 1982.4 597.6 1984.5 598.1 1986.6 598.6 1988.5 599.1 1990.2 599.6 1991.9 600.1 1993.4 600.6 1994.7 601.1 1996 601.6 1997.1 602.1 1998.2 602.6 1999.1 603.1 2000 603.6 2000.8 604.1 2001.5 604.6 2002.1 605.1 2002.7 605.6 2003.1 606.1 2003.6 606.6 2004 607.1 2004.3 607.6 2004.6 608.1 2004.9 608.6 2005.1 609.1 2005.3 609.6 2005.5 610.1 2005.6 610.6 2005.8 611.1 2005.9 611.6 2006 612.1 2006.1 612.6 2006.1" fill="none" stroke="#10ee10" stroke-width="2.4" stroke-linejoin="round"/>
<path d="M404.1 2005 404.6 2004.9 405.1 2004.7 405.6 2004.2 406.1 2003.6 406.6 2002.6 407.1 2001.4 407.6 2000 408.1 1998.5 408.6 1996.9 409.1 1995.1 409.6 1993 410.1 1990.6 410.6 1987.7 411.1 1984.5 411.6 1980.8 412.1 1976.7 412.6 1972 413.1 1966.5 413.6 1960.1 414.1 1953 414.6 1945.5 415.1 1937.5 415.6 1929 416.1 1919.4 416.6 1908.3 417.1 1895 417.6 1879.6 418.1 1862.4 418.6 1844.4 419.1 1826.5 419.6 1809.2 420.1 1792.6 420.6 1776.5 421.1 1760.5 421.6 1744.1 422.1 1726.7 422.6 1708 423.1 1687.7 423.6 1666.2 424.1 1644.1 424.6 1621.7 425.1 1599.4 425.6 1577.3 426.1 1555.5 426.6 1534.1 427.1 1513.3 427.6 1493.5 428.1 1475 428.6 1457.9 429.1 1442.2 429.6 1428.2 430.1 1416.2 430.6 1406.7 431.1 1400.1 431.6 1396.9 432.1 1397.3 432.6 1401.3 433.1 1409.1 433.6 1420.7 434.1 1435.5 434.6 1452.9 435.1 1472 435.6 1492 436.1 1512.6 436.6 1533.7 437.1 1554.9 437.6 1576.3 438.1 1597.4 438.6 1618 439.1 1638 439.6 1657.2 440.1 1675.6 440.6 1693.4 441.1 1710.5 441.6 1726.9 442.1 1742.6 442.6 1757.6 443.1 1772.2 443.6 1786.4 444.1 1800.3 444.6 1813.7 445.1 1826.7 445.6 1839 446.1 1850.8 446.6 1861.6 447.1 1871.4 447.6 1879.8 448.1 1887.2 448.6 1893.6 449.1 1899.6 449.6 1905 450.1 1910 450.6 1914.4 451.1 1918.1 451.6 1921.2 452.1 1923.8 452.6 1926.3 453.1 1928.7 453.6 1931.1 454.1 1933.4 454.6 1935.6 455.1 1937.7 455.6 1939.6 456.1 1941.2 456.6 1942.7 457.1 1944 457.6 1945.3 458.1 1946.6 458.6 1947.8 459.1 1949 459.6 1950.2 460.1 1951.4 460.6 1952.6 461.1 1953.8 461.6 1954.9 462.1 1955.9 462.6 1956.9 463.1 1957.7 463.6 1958.5 464.1 1959.3 464.6 1960.1 465.1 1960.8 465.6 1961.6 466.1 1962.4 466.6 1963.1 467.1 1963.8 467.6 1964.4 468.1 1965 468.6 1965.4 469.1 1965.8 469.6 1966 470.1 1966.2 470.6 1966.4 471.1 1966.6 471.6 1966.8 472.1 1967 472.6 1967.2 473.1 1967.3 473.6 1967.5 474.1 1967.7 474.6 1967.9 475.1 1968.1 475.6 1968.3 476.1 1968.5 476.6 1968.7 477.1 1968.8 477.6 1969 478.1 1969.2 478.6 1969.4 479.1 1969.6 479.6 1969.8 480.1 1970 480.6 1970.3 481.1 1970.6 481.6 1970.9 482.1 1971.3 482.6 1971.7 483.1 1972.1 483.6 1972.5 484.1 1973 484.6 1973.4 485.1 1973.8 485.6 1974.2 486.1 1974.6 486.6 1975 487.1 1975.4 487.6 1975.8 488.1 1976.2 488.6 1976.6 489.1 1977 489.6 1977.3 490.1 1977.4 490.6 1977.5 491.1 1977.4 491.6 1977.2 492.1 1977 492.6 1976.7 493.1 1976.4 493.6 1976.2 494.1 1975.9 494.6 1975.6 495.1 1975.3 495.6 1975.1 496.1 1974.8 496.6 1974.5 497.1 1974.2 497.6 1974 498.1 1973.7 498.6 1973.4 499.1 1973.1 499.6 1972.9 500.1 1972.6 500.6 1972.3 501.1 1972 501.6 1971.8 502.1 1971.5 502.6 1971.2 503.1 1971 503.6 1970.8 504.1 1970.7 504.6 1970.7 505.1 1970.9 505.6 1971.1 506.1 1971.4 506.6 1971.7 507.1 1972.1 507.6 1972.4 508.1 1972.8 508.6 1973.1 509.1 1973.5 509.6 1973.9 510.1 1974.2 510.6 1974.6 511.1 1974.9 511.6 1975.3 512.1 1975.6 512.6 1976 513.1 1976.3 513.6 1976.7 514.1 1977 514.6 1977.4 515.1 1977.8 515.6 1978.1 516.1 1978.5 516.6 1978.9 517.1 1979.3 517.6 1979.6 518.1 1980 518.6 1980.4 519.1 1980.8 519.6 1981.2 520.1 1981.5 520.6 1981.9 521.1 1982.3 521.6 1982.7 522.1 1983.1 522.6 1983.4 523.1 1983.8 523.6 1984.2 524.1 1984.6 524.6 1985 525.1 1985.3 525.6 1985.7 526.1 1986.1 526.6 1986.4 527.1 1986.7 527.6 1986.8 528.1 1986.8 528.6 1986.6 529.1 1986.3 529.6 1985.8 530.1 1985.4 530.6 1984.9 531.1 1984.4 531.6 1983.9 532.1 1983.4 532.6 1982.9 533.1 1982.4 533.6 1981.9 534.1 1981.4 534.6 1980.9 535.1 1980.4 535.6 1979.9 536.1 1979.4 536.6 1979 537.1 1978.5 537.6 1978 538.1 1977.6 538.6 1977.1 539.1 1976.7 539.6 1976.3 540.1 1975.9 540.6 1975.5 541.1 1975.1 541.6 1974.6 542.1 1974.2 542.6 1973.8 543.1 1973.4 543.6 1973 544.1 1972.6 544.6 1972.1 545.1 1971.7 545.6 1971.3 546.1 1970.8 546.6 1970.3 547.1 1969.8 547.6 1969.2 548.1 1968.6 548.6 1967.9 549.1 1967.2 549.6 1966.5 550.1 1965.8 550.6 1965.1 551.1 1964.4 551.6 1963.7 552.1 1963 552.6 1962.3 553.1 1961.6 553.6 1960.9 554.1 1960.1 554.6 1959.3 555.1 1958.3 555.6 1957.3 556.1 1956.2 556.6 1955 557.1 1953.8 557.6 1952.6 558.1 1951.4 558.6 1950.2 559.1 1949 559.6 1947.8 560.1 1946.6 560.6 1945.4 561.1 1944.2 561.6 1942.9 562.1 1941.4 562.6 1939.8 563.1 1937.8 563.6 1935.7 564.1 1933.3 564.6 1930.8 565.1 1928.3 565.6 1925.8 566.1 1923.2 566.6 1920.7 567.1 1918.2 567.6 1915.7 568.1 1913.2 568.6 1911 569.1 1908.9 569.6 1907 570.1 1905.2 570.6 1903.5 571.1 1901.9 571.6 1900.3 572.1 1898.8 572.6 1897.2 573.1 1895.6 573.6 1894 574.1 1892.4 574.6 1890.9 575.1 1889.3 575.6 1887.7 576.1 1886.1 576.6 1884.6 577.1 1883.2 577.6 1882.1 578.1 1881.5 578.6 1881.4 579.1 1882 579.6 1883.1 580.1 1884.6 580.6 1886.2 581.1 1888 581.6 1889.7 582.1 1891.5 582.6 1893.2 583.1 1895 583.6 1896.9 584.1 1899.1 584.6 1901.5 585.1 1904.4 585.6 1907.6 586.1 1911 586.6 1914.7 587.1 1918.4 587.6 1922.2 588.1 1926 588.6 1929.7 589.1 1933.5 589.6 1937.2 590.1 1940.8 590.6 1944.3 591.1 1947.5 591.6 1950.5 592.1 1953.3 592.6 1955.9 593.1 1958.4 593.6 1960.9 594.1 1963.4 594.6 1965.9 595.1 1968.4 595.6 1970.9 596.1 1973.3 596.6 1975.5 597.1 1977.5 597.6 1979.2 598.1 1980.6 598.6 1981.7 599.1 1982.7 599.6 1983.7 600.1 1984.6 600.6 1985.5 601.1 1986.3 601.6 1987.2 602.1 1988.1 602.6 1989 603.1 1989.9 603.6 1990.8 604.1 1991.6 604.6 1992.5 605.1 1993.3 605.6 1994.1 606.1 1994.9 606.6 1995.6 607.1 1996.3 607.6 1997.1 608.1 1997.8 608.6 1998.5 609.1 1999.2 609.6 1999.9 610.1 2000.6 610.6 2001.4 611.1 2002.1 611.6 2002.7 612.1 2003.4 612.6 2004 613.1 2004.4 613.6 2004.7 614.1 2004.9 614.6 2005 615.1 2005 615.6 2005" fill="none" stroke="#000" stroke-width="3.2" stroke-linejoin="round" stroke-linecap="butt"/>
<path d="M408.1 2004.9 408.6 2004.9 409.1 2004.9 409.6 2004.8 410.1 2004.7 410.6 2004.6 411.1 2004.5 411.6 2004.3 412.1 2004 412.6 2003.7 413.1 2003.2 413.6 2002.6 414.1 2001.9 414.6 2000.8 415.1 1999.5 415.6 1997.9 416.1 1995.8 416.6 1993.2 417.1 1989.9 417.6 1986 418.1 1981.1 418.6 1975.2 419.1 1968.2 419.6 1959.8 420.1 1949.9 420.6 1938.4 421.1 1925 421.6 1909.6 422.1 1892.2 422.6 1872.6 423.1 1850.7 423.6 1826.5 424.1 1800 424.6 1771.3 425.1 1740.7 425.6 1708.2 426.1 1674.2 426.6 1639 427.1 1603 427.6 1566.8 428.1 1530.7 428.6 1494.7 429.1 1458.5 429.6 1423.2 430.1 1390 430.6 1360 431.1 1333.8 431.6 1311.8 432.1 1294.4 432.6 1281.9 433.1 1274.4 433.6 1272.1 434.1 1275.1 434.6 1283.4 435.1 1296.6 435.6 1314.4 436.1 1336.1 436.6 1361.1 437.1 1388.9 437.6 1418.9 438.1 1450.4 438.6 1483 439.1 1515.9 439.6 1548.7 440.1 1580.9 440.6 1612.4 441.1 1643.1 441.6 1672.5 442.1 1700 442.6 1725.4 443.1 1748.7 443.6 1770 444.1 1790 444.6 1809.1 445.1 1826.7 445.6 1842.4 446.1 1856.4 446.6 1868.8 447.1 1880.3 447.6 1891.1 448.1 1901 448.6 1909.9 449.1 1917.4 449.6 1923.3 450.1 1927.8 450.6 1931.5 451.1 1934.7 451.6 1937.6 452.1 1940.2 452.6 1942.5 453.1 1944.6 453.6 1946.5 454.1 1948.3 454.6 1949.9 455.1 1951.4 455.6 1952.9 456.1 1954.3 456.6 1955.6 457.1 1957 457.6 1958.3 458.1 1959.6 458.6 1960.9 459.1 1962.2 459.6 1963.5 460.1 1964.6 460.6 1965.4 461.1 1965.8 461.6 1966 462.1 1966.2 462.6 1966.4 463.1 1966.6 463.6 1966.8 464.1 1967 464.6 1967.2 465.1 1967.4 465.6 1967.7 466.1 1967.9 466.6 1968.1 467.1 1968.3 467.6 1968.5 468.1 1968.7 468.6 1968.9 469.1 1969.1 469.6 1969.3 470.1 1969.4 470.6 1969.6 471.1 1969.8 471.6 1970 472.1 1970.2 472.6 1970.4 473.1 1970.6 473.6 1970.8 474.1 1971 474.6 1971.1 475.1 1971.3 475.6 1971.5 476.1 1971.6 476.6 1971.7 477.1 1971.7 477.6 1971.7 478.1 1971.7 478.6 1971.7 479.1 1971.7 479.6 1971.7 480.1 1971.7 480.6 1971.7 481.1 1971.7 481.6 1971.8 482.1 1972.3 482.6 1973.6 483.1 1975.8 483.6 1978.3 484.1 1980.8 484.6 1982.9 485.1 1984 485.6 1984.3 486.1 1984.4 486.6 1984.4 487.1 1984.4 487.6 1984.4 488.1 1984.4 488.6 1984.4 489.1 1984.4 489.6 1984.4 490.1 1984.4 490.6 1984.4 491.1 1984.4 491.6 1984.4 492.1 1984.4 492.6 1984.4 493.1 1984.4 493.6 1984.4 494.1 1984.4 494.6 1984.4 495.1 1984.4 495.6 1984.4 496.1 1984.4 496.6 1984.4 497.1 1984.4 497.6 1984.3 498.1 1983.7 498.6 1982.3 499.1 1980.4 499.6 1978.8 500.1 1977.8 500.6 1977.3 501.1 1976.9 501.6 1976.5 502.1 1976.1 502.6 1975.6 503.1 1974.7 503.6 1973 504.1 1970.9 504.6 1970.4 505.1 1972.4 505.6 1975.2 506.1 1977.3 506.6 1978.2 507.1 1978.6 507.6 1978.8 508.1 1979.1 508.6 1979.3 509.1 1979.6 509.6 1979.9 510.1 1980.1 510.6 1980.4 511.1 1980.6 511.6 1980.9 512.1 1981.1 512.6 1981.2 513.1 1981.2 513.6 1981.2 514.1 1981.2 514.6 1981.2 515.1 1981.2 515.6 1981.2 516.1 1981.2 516.6 1981.2 517.1 1981.2 517.6 1981.2 518.1 1981.2 518.6 1981.2 519.1 1981.2 519.6 1981.3 520.1 1981.8 520.6 1982.9 521.1 1984.5 521.6 1986.2 522.1 1988 522.6 1989.6 523.1 1991.1 523.6 1991.9 524.1 1992.2 524.6 1992.3 525.1 1992.3 525.6 1992.3 526.1 1992.3 526.6 1992.3 527.1 1992.3 527.6 1992.3 528.1 1992.3 528.6 1992.3 529.1 1992.3 529.6 1992.3 530.1 1992.3 530.6 1992.3 531.1 1992.3 531.6 1992.3 532.1 1992.3 532.6 1992.3 533.1 1992.3 533.6 1992.3 534.1 1992.3 534.6 1992.3 535.1 1992.3 535.6 1992 536.1 1991.1 536.6 1989.6 537.1 1987.6 537.6 1985.6 538.1 1983.6 538.6 1981.7 539.1 1980.2 539.6 1979.3 540.1 1978.8 540.6 1978.4 541.1 1978 541.6 1977.6 542.1 1977.2 542.6 1976.8 543.1 1976.4 543.6 1976 544.1 1975.6 544.6 1975.1 545.1 1974.7 545.6 1974.3 546.1 1973.8 546.6 1973.4 547.1 1973.1 547.6 1972.8 548.1 1972.5 548.6 1972.2 549.1 1971.9 549.6 1971.6 550.1 1971.3 550.6 1971 551.1 1970.6 551.6 1970.2 552.1 1969.8 552.6 1969.3 553.1 1968.8 553.6 1968.3 554.1 1967.7 554.6 1967 555.1 1966.3 555.6 1965.5 556.1 1964.7 556.6 1963.7 557.1 1962.6 557.6 1961.3 558.1 1960 558.6 1958.6 559.1 1957.1 559.6 1955.4 560.1 1953.6 560.6 1951.8 561.1 1950 561.6 1948.4 562.1 1946.9 562.6 1945.3 563.1 1943.5 563.6 1941.6 564.1 1939.6 564.6 1937.5 565.1 1935.2 565.6 1932.8 566.1 1930.4 566.6 1928.1 567.1 1925.8 567.6 1923.4 568.1 1920.9 568.6 1918.3 569.1 1915.6 569.6 1912.9 570.1 1910.2 570.6 1907.5 571.1 1904.8 571.6 1902.1 572.1 1899.4 572.6 1896.9 573.1 1894.4 573.6 1892.1 574.1 1889.8 574.6 1887.7 575.1 1885.8 575.6 1884.1 576.1 1882.7 576.6 1881.4 577.1 1880.5 577.6 1879.8 578.1 1879.4 578.6 1879.4 579.1 1879.6 579.6 1880.2 580.1 1881.1 580.6 1882.3 581.1 1883.8 581.6 1885.6 582.1 1887.6 582.6 1889.8 583.1 1892 583.6 1894.3 584.1 1896.6 584.6 1899.2 585.1 1901.9 585.6 1904.9 586.1 1908.1 586.6 1911.4 587.1 1914.8 587.6 1918.4 588.1 1922 588.6 1925.7 589.1 1929.4 589.6 1933.2 590.1 1937 590.6 1940.7 591.1 1944.4 591.6 1948 592.1 1951.6 592.6 1955.1 593.1 1958.4 593.6 1961.7 594.1 1964.8 594.6 1967.9 595.1 1970.7 595.6 1973.5 596.1 1976.1 596.6 1978.6 597.1 1980.9 597.6 1983 598.1 1985.1 598.6 1987 599.1 1988.7 599.6 1990.4 600.1 1991.9 600.6 1993.2 601.1 1994.5 601.6 1995.6 602.1 1996.7 602.6 1997.6 603.1 1998.5 603.6 1999.3 604.1 2000 604.6 2000.6 605.1 2001.2 605.6 2001.6 606.1 2002.1 606.6 2002.5 607.1 2002.8 607.6 2003.1 608.1 2003.4 608.6 2003.6 609.1 2003.8 609.6 2004 610.1 2004.1 610.6 2004.3 611.1 2004.4 611.6 2004.5" fill="none" stroke="#ff00ff" stroke-width="4.0" stroke-linejoin="round" stroke-linecap="butt"/>
</g>
<line x1="278.2" y1="2005" x2="410" y2="2005" stroke="#dd99dd" stroke-width="2.4"/>
<line x1="610" y1="2005" x2="1053" y2="2005" stroke="#dd99dd" stroke-width="2.4"/>
<line x1="276" y1="1229.2" x2="1057" y2="1229.2" stroke="#000" stroke-width="2.3"/>
<line x1="276" y1="2008" x2="1057" y2="2008" stroke="#000" stroke-width="3.7"/>
<line x1="277.1" y1="1229.2" x2="277.1" y2="2008" stroke="#000" stroke-width="2.2"/>
<line x1="1055" y1="1229.2" x2="1055" y2="2008" stroke="#000" stroke-width="3.9"/>
<line x1="254" y1="1385.5" x2="276.5" y2="1385.5" stroke="#000" stroke-width="5.8"/>
<text transform="translate(239.7 1404.4) scale(0.94 1)" font-size="45" text-anchor="end" font-weight="bold">300</text>
<line x1="265.6" y1="1440.4" x2="276.5" y2="1440.4" stroke="#000" stroke-width="3.4"/>
<line x1="265.6" y1="1491.3" x2="276.5" y2="1491.3" stroke="#000" stroke-width="2.4"/>
<line x1="265.6" y1="1543.8" x2="276.5" y2="1543.8" stroke="#000" stroke-width="3.4"/>
<line x1="254" y1="1593.3" x2="276.5" y2="1593.3" stroke="#000" stroke-width="5.8"/>
<text transform="translate(239.7 1610) scale(0.94 1)" font-size="45" text-anchor="end" font-weight="bold">200</text>
<line x1="265.6" y1="1647.1" x2="276.5" y2="1647.1" stroke="#000" stroke-width="3.4"/>
<line x1="265.6" y1="1697" x2="276.5" y2="1697" stroke="#000" stroke-width="2.4"/>
<line x1="265.6" y1="1748.5" x2="276.5" y2="1748.5" stroke="#000" stroke-width="3.4"/>
<line x1="254" y1="1797" x2="276.5" y2="1797" stroke="#000" stroke-width="5.8"/>
<text transform="translate(239.7 1814.5) scale(0.94 1)" font-size="45" text-anchor="end" font-weight="bold">100</text>
<line x1="265.6" y1="1851.3" x2="276.5" y2="1851.3" stroke="#000" stroke-width="3.4"/>
<line x1="265.6" y1="1901.8" x2="276.5" y2="1901.8" stroke="#000" stroke-width="2.4"/>
<line x1="265.6" y1="1953.8" x2="276.5" y2="1953.8" stroke="#000" stroke-width="3.4"/>
<line x1="254" y1="2002.8" x2="276.5" y2="2002.8" stroke="#000" stroke-width="5.8"/>
<text transform="translate(239.7 2004.3) scale(0.94 1)" font-size="45" text-anchor="end" font-weight="bold">0</text>
<line x1="265.6" y1="1283.5" x2="276.5" y2="1283.5" stroke="#000" stroke-width="2.4"/>
<line x1="265.6" y1="1336" x2="276.5" y2="1336" stroke="#000" stroke-width="3.4"/>
<line x1="265.6" y1="1232.2" x2="276.5" y2="1232.2" stroke="#000" stroke-width="4.6"/>
<line x1="279" y1="2008" x2="279" y2="2027.7" stroke="#000" stroke-width="5.9"/>
<line x1="331.4" y1="2008" x2="331.4" y2="2017.7" stroke="#000" stroke-width="3"/>
<line x1="383.9" y1="2008" x2="383.9" y2="2017.7" stroke="#000" stroke-width="3"/>
<line x1="436.3" y1="2008" x2="436.3" y2="2017.7" stroke="#000" stroke-width="3"/>
<line x1="488.7" y1="2008" x2="488.7" y2="2027.7" stroke="#000" stroke-width="5.9"/>
<line x1="541.2" y1="2008" x2="541.2" y2="2017.7" stroke="#000" stroke-width="3"/>
<line x1="593.7" y1="2008" x2="593.7" y2="2017.7" stroke="#000" stroke-width="3"/>
<line x1="646.2" y1="2008" x2="646.2" y2="2017.7" stroke="#000" stroke-width="3"/>
<line x1="698.7" y1="2008" x2="698.7" y2="2027.7" stroke="#000" stroke-width="5.9"/>
<line x1="750.1" y1="2008" x2="750.1" y2="2017.7" stroke="#000" stroke-width="3"/>
<line x1="801.5" y1="2008" x2="801.5" y2="2017.7" stroke="#000" stroke-width="3"/>
<line x1="852.8" y1="2008" x2="852.8" y2="2017.7" stroke="#000" stroke-width="3"/>
<line x1="904.2" y1="2008" x2="904.2" y2="2027.7" stroke="#000" stroke-width="5.9"/>
<line x1="955.6" y1="2008" x2="955.6" y2="2017.7" stroke="#000" stroke-width="3"/>
<line x1="1007" y1="2008" x2="1007" y2="2017.7" stroke="#000" stroke-width="3"/>
<text transform="translate(274.2 2069.5) scale(0.94 1)" font-size="45" text-anchor="start" font-weight="bold">0</text>
<text transform="translate(489.5 2069.5) scale(0.94 1)" font-size="45" text-anchor="middle" font-weight="bold">200K</text>
<text transform="translate(699 2069.5) scale(0.94 1)" font-size="45" text-anchor="middle" font-weight="bold">400K</text>
<text transform="translate(905.4 2069.5) scale(0.94 1)" font-size="45" text-anchor="middle" font-weight="bold">600K</text>
<text x="675" y="1197.2" font-size="77" text-anchor="middle" font-weight="bold">6.0 μM</text>
<text x="663.3" y="2177.6" font-size="54.5" text-anchor="middle" font-weight="bold">PI-A</text>
<text transform="translate(98.2 1613) rotate(-90)" font-size="56" font-weight="bold" text-anchor="middle">Count</text>
<text x="697.2" y="1421.8" font-size="55"><tspan font-weight="bold">%G1</tspan> : 49.2</text>
<text x="697.2" y="1490" font-size="55"><tspan font-weight="bold">%S</tspan> : 33.1</text>
<text x="697.2" y="1556.9" font-size="55"><tspan font-weight="bold">%G2</tspan> : 15.4</text>
</g>
<g>
<g clip-path="url(#clip_12_0)">
<path d="M1567.7 2003.7 L1567.7 2003.3 1568.2 2003.2 1568.7 2003 1569.2 2002.7 1569.7 2002.4 1570.2 2001.9 1570.7 2001.3 1571.2 2000.4 1571.7 1999.4 1572.2 1998 1572.7 1996.2 1573.2 1994 1573.7 1991.3 1574.2 1987.8 1574.7 1983.6 1575.2 1978.4 1575.7 1972.2 1576.2 1964.7 1576.7 1955.8 1577.2 1945.3 1577.7 1933.1 1578.2 1919 1578.7 1902.8 1579.2 1884.5 1579.7 1863.9 1580.2 1841 1580.7 1815.8 1581.2 1788.4 1581.7 1758.9 1582.2 1727.4 1582.7 1694.3 1583.2 1660 1583.7 1624.7 1584.2 1589 1584.7 1553.4 1585.2 1518.5 1585.7 1484.9 1586.2 1453.2 1586.7 1424.1 1587.2 1398.1 1587.7 1375.8 1588.2 1357.6 1588.7 1344.1 1589.2 1335.4 1589.7 1331.8 1590.2 1333.3 1590.7 1340 1591.2 1351.7 1591.7 1368 1592.2 1388.7 1592.7 1413.3 1593.2 1441.2 1593.7 1471.9 1594.2 1504.8 1594.7 1539.3 1595.2 1574.7 1595.7 1610.4 1596.2 1645.9 1596.7 1680.7 1597.2 1714.4 1597.7 1746.5 1598.2 1776.8 1598.7 1805.1 1599.2 1831.2 1599.7 1855 1600.2 1876.5 1600.7 1895.7 1601.2 1912.8 1601.7 1927.7 1602.2 1940.6 1602.7 1951.8 1603.2 1961.3 1603.7 1969.3 1604.2 1976.1 1604.7 1981.6 1605.2 1986.2 1605.7 1990 1606.2 1993 1606.7 1995.4 1607.2 1997.3 1607.7 1998.8 1608.2 2000 1608.7 2000.9 1609.2 2001.6 1609.7 2002.2 1610.2 2002.6 1610.7 2002.9 1611.2 2003.1 1611.7 2003.3 1612.2 2003.4 L1612.2 2003.7 Z" fill="#0000ff" fill-opacity="0.31"/>
<path d="M1567.7 2003.3 1568.2 2003.2 1568.7 2003 1569.2 2002.7 1569.7 2002.4 1570.2 2001.9 1570.7 2001.3 1571.2 2000.4 1571.7 1999.4 1572.2 1998 1572.7 1996.2 1573.2 1994 1573.7 1991.3 1574.2 1987.8 1574.7 1983.6 1575.2 1978.4 1575.7 1972.2 1576.2 1964.7 1576.7 1955.8 1577.2 1945.3 1577.7 1933.1 1578.2 1919 1578.7 1902.8 1579.2 1884.5 1579.7 1863.9 1580.2 1841 1580.7 1815.8 1581.2 1788.4 1581.7 1758.9 1582.2 1727.4 1582.7 1694.3 1583.2 1660 1583.7 1624.7 1584.2 1589 1584.7 1553.4 1585.2 1518.5 1585.7 1484.9 1586.2 1453.2 1586.7 1424.1 1587.2 1398.1 1587.7 1375.8 1588.2 1357.6 1588.7 1344.1 1589.2 1335.4 1589.7 1331.8 1590.2 1333.3 1590.7 1340 1591.2 1351.7 1591.7 1368 1592.2 1388.7 1592.7 1413.3 1593.2 1441.2 1593.7 1471.9 1594.2 1504.8 1594.7 1539.3 1595.2 1574.7 1595.7 1610.4 1596.2 1645.9 1596.7 1680.7 1597.2 1714.4 1597.7 1746.5 1598.2 1776.8 1598.7 1805.1 1599.2 1831.2 1599.7 1855 1600.2 1876.5 1600.7 1895.7 1601.2 1912.8 1601.7 1927.7 1602.2 1940.6 1602.7 1951.8 1603.2 1961.3 1603.7 1969.3 1604.2 1976.1 1604.7 1981.6 1605.2 1986.2 1605.7 1990 1606.2 1993 1606.7 1995.4 1607.2 1997.3 1607.7 1998.8 1608.2 2000 1608.7 2000.9 1609.2 2001.6 1609.7 2002.2 1610.2 2002.6 1610.7 2002.9 1611.2 2003.1 1611.7 2003.3 1612.2 2003.4" fill="none" stroke="#2210ff" stroke-width="3.0" stroke-linejoin="round"/>
<path d="M1585.2 2003.7 L1585.2 2003.4 1585.7 2002.4 1586.2 1999.9 1586.7 1995.8 1587.2 1990.8 1587.7 1985.5 1588.2 1980.2 1588.7 1974.9 1589.2 1969.5 1589.7 1964.2 1590.2 1959 1590.7 1953.8 1591.2 1948.8 1591.7 1943.8 1592.2 1938.9 1592.7 1934 1593.2 1929.5 1593.7 1925.9 1594.2 1923.2 1594.7 1921.1 1595.2 1919.3 1595.7 1917.6 1596.2 1916.2 1596.7 1915.8 1597.2 1916.7 1597.7 1918.5 1598.2 1920.7 1598.7 1922.9 1599.2 1925.2 1599.7 1927.4 1600.2 1929.8 1600.7 1932.2 1601.2 1934.7 1601.7 1937.2 1602.2 1939.6 1602.7 1941.9 1603.2 1943.9 1603.7 1945.5 1604.2 1946.9 1604.7 1948.2 1605.2 1949.6 1605.7 1950.9 1606.2 1952.2 1606.7 1953.6 1607.2 1954.8 1607.7 1955.9 1608.2 1956.6 1608.7 1957.1 1609.2 1957.6 1609.7 1957.9 1610.2 1958.3 1610.7 1958.7 1611.2 1959.1 1611.7 1959.5 1612.2 1959.8 1612.7 1960.2 1613.2 1960.6 1613.7 1961 1614.2 1961.3 1614.7 1961.6 1615.2 1961.9 1615.7 1962.2 1616.2 1962.5 1616.7 1962.8 1617.2 1963.1 1617.7 1963.4 1618.2 1963.7 1618.7 1964 1619.2 1964.3 1619.7 1964.6 1620.2 1964.9 1620.7 1965.2 1621.2 1965.6 1621.7 1966.1 1622.2 1966.9 1622.7 1968 1623.2 1969.2 1623.7 1970.6 1624.2 1971.9 1624.7 1973.2 1625.2 1974.6 1625.7 1975.9 1626.2 1977 1626.7 1977.8 1627.2 1977.9 1627.7 1977.6 1628.2 1977.1 1628.7 1976.6 1629.2 1976.1 1629.7 1975.6 1630.2 1975.1 1630.7 1974.6 1631.2 1974.1 1631.7 1973.6 1632.2 1973.1 1632.7 1972.6 1633.2 1972.1 1633.7 1971.6 1634.2 1971.1 1634.7 1970.6 1635.2 1970.1 1635.7 1969.6 1636.2 1969.1 1636.7 1968.6 1637.2 1968.2 1637.7 1968.1 1638.2 1968.4 1638.7 1969 1639.2 1969.6 1639.7 1970.3 1640.2 1971 1640.7 1971.6 1641.2 1972.3 1641.7 1972.9 1642.2 1973.5 1642.7 1974 1643.2 1974.3 1643.7 1974.6 1644.2 1974.9 1644.7 1975.2 1645.2 1975.5 1645.7 1975.8 1646.2 1976.1 1646.7 1976.4 1647.2 1976.6 1647.7 1976.9 1648.2 1977.2 1648.7 1977.5 1649.2 1977.8 1649.7 1978.1 1650.2 1978.4 1650.7 1978.7 1651.2 1978.9 1651.7 1979.2 1652.2 1979.5 1652.7 1979.8 1653.2 1979.9 1653.7 1980 1654.2 1979.9 1654.7 1979.7 1655.2 1979.5 1655.7 1979.3 1656.2 1979.1 1656.7 1978.9 1657.2 1978.8 1657.7 1978.6 1658.2 1978.4 1658.7 1978.2 1659.2 1978 1659.7 1977.8 1660.2 1977.6 1660.7 1977.4 1661.2 1977.2 1661.7 1977 1662.2 1976.8 1662.7 1976.7 1663.2 1976.5 1663.7 1976.3 1664.2 1976.1 1664.7 1975.9 1665.2 1975.7 1665.7 1975.6 1666.2 1975.6 1666.7 1975.7 1667.2 1975.9 1667.7 1976.1 1668.2 1976.3 1668.7 1976.5 1669.2 1976.7 1669.7 1976.9 1670.2 1977.1 1670.7 1977.3 1671.2 1977.5 1671.7 1977.7 1672.2 1977.9 1672.7 1978.1 1673.2 1978.3 1673.7 1978.6 1674.2 1979 1674.7 1979.4 1675.2 1979.9 1675.7 1980.4 1676.2 1980.9 1676.7 1981.4 1677.2 1981.9 1677.7 1982.4 1678.2 1982.8 1678.7 1983.1 1679.2 1983.3 1679.7 1983.3 1680.2 1983.3 1680.7 1983.3 1681.2 1983.3 1681.7 1983.3 1682.2 1983.3 1682.7 1983.3 1683.2 1983.3 1683.7 1983.3 1684.2 1983.3 1684.7 1983.3 1685.2 1983.3 1685.7 1983.3 1686.2 1983.1 1686.7 1982.8 1687.2 1982.3 1687.7 1981.7 1688.2 1981.1 1688.7 1980.4 1689.2 1979.8 1689.7 1979.1 1690.2 1978.5 1690.7 1977.8 1691.2 1977.4 1691.7 1977.1 1692.2 1976.9 1692.7 1976.8 1693.2 1976.8 1693.7 1976.7 1694.2 1976.7 1694.7 1976.6 1695.2 1976.6 1695.7 1976.5 1696.2 1976.4 1696.7 1976.4 1697.2 1976.3 1697.7 1976.3 1698.2 1976.2 1698.7 1976.2 1699.2 1976.1 1699.7 1976 1700.2 1976 1700.7 1975.9 1701.2 1975.9 1701.7 1975.8 1702.2 1975.8 1702.7 1975.7 1703.2 1975.6 1703.7 1975.6 1704.2 1975.5 1704.7 1975.5 1705.2 1975.5 1705.7 1975.5 1706.2 1975.6 1706.7 1975.7 1707.2 1975.8 1707.7 1975.9 1708.2 1976 1708.7 1976.1 1709.2 1976.2 1709.7 1976.3 1710.2 1976.4 1710.7 1976.5 1711.2 1976.6 1711.7 1976.7 1712.2 1976.8 1712.7 1976.8 1713.2 1976.9 1713.7 1977 1714.2 1977.1 1714.7 1977.1 1715.2 1977.2 1715.7 1977.3 1716.2 1977.3 1716.7 1977.4 1717.2 1977.5 1717.7 1977.5 1718.2 1977.6 1718.7 1977.7 1719.2 1977.8 1719.7 1977.8 1720.2 1977.9 1720.7 1978 1721.2 1978 1721.7 1978.1 1722.2 1978.2 1722.7 1978.2 1723.2 1978.3 1723.7 1978.4 1724.2 1978.5 1724.7 1978.5 1725.2 1978.7 1725.7 1979 1726.2 1979.5 1726.7 1980.3 1727.2 1981.3 1727.7 1982.3 1728.2 1983.3 1728.7 1984.2 1729.2 1985.2 1729.7 1986.2 1730.2 1987.2 1730.7 1988.3 1731.2 1989.3 1731.7 1990.4 1732.2 1991.5 1732.7 1992.6 1733.2 1993.7 1733.7 1994.7 1734.2 1995.8 1734.7 1996.9 1735.2 1998 1735.7 1999.1 1736.2 2000.2 1736.7 2001.2 1737.2 2002.1 1737.7 2002.9 1738.2 2003.4 L1738.2 2003.7 Z" fill="#c8b400" fill-opacity="0.3"/>
<path d="M1585.2 2003.4 1585.7 2002.4 1586.2 1999.9 1586.7 1995.8 1587.2 1990.8 1587.7 1985.5 1588.2 1980.2 1588.7 1974.9 1589.2 1969.5 1589.7 1964.2 1590.2 1959 1590.7 1953.8 1591.2 1948.8 1591.7 1943.8 1592.2 1938.9 1592.7 1934 1593.2 1929.5 1593.7 1925.9 1594.2 1923.2 1594.7 1921.1 1595.2 1919.3 1595.7 1917.6 1596.2 1916.2 1596.7 1915.8 1597.2 1916.7 1597.7 1918.5 1598.2 1920.7 1598.7 1922.9 1599.2 1925.2 1599.7 1927.4 1600.2 1929.8 1600.7 1932.2 1601.2 1934.7 1601.7 1937.2 1602.2 1939.6 1602.7 1941.9 1603.2 1943.9 1603.7 1945.5 1604.2 1946.9 1604.7 1948.2 1605.2 1949.6 1605.7 1950.9 1606.2 1952.2 1606.7 1953.6 1607.2 1954.8 1607.7 1955.9 1608.2 1956.6 1608.7 1957.1 1609.2 1957.6 1609.7 1957.9 1610.2 1958.3 1610.7 1958.7 1611.2 1959.1 1611.7 1959.5 1612.2 1959.8 1612.7 1960.2 1613.2 1960.6 1613.7 1961 1614.2 1961.3 1614.7 1961.6 1615.2 1961.9 1615.7 1962.2 1616.2 1962.5 1616.7 1962.8 1617.2 1963.1 1617.7 1963.4 1618.2 1963.7 1618.7 1964 1619.2 1964.3 1619.7 1964.6 1620.2 1964.9 1620.7 1965.2 1621.2 1965.6 1621.7 1966.1 1622.2 1966.9 1622.7 1968 1623.2 1969.2 1623.7 1970.6 1624.2 1971.9 1624.7 1973.2 1625.2 1974.6 1625.7 1975.9 1626.2 1977 1626.7 1977.8 1627.2 1977.9 1627.7 1977.6 1628.2 1977.1 1628.7 1976.6 1629.2 1976.1 1629.7 1975.6 1630.2 1975.1 1630.7 1974.6 1631.2 1974.1 1631.7 1973.6 1632.2 1973.1 1632.7 1972.6 1633.2 1972.1 1633.7 1971.6 1634.2 1971.1 1634.7 1970.6 1635.2 1970.1 1635.7 1969.6 1636.2 1969.1 1636.7 1968.6 1637.2 1968.2 1637.7 1968.1 1638.2 1968.4 1638.7 1969 1639.2 1969.6 1639.7 1970.3 1640.2 1971 1640.7 1971.6 1641.2 1972.3 1641.7 1972.9 1642.2 1973.5 1642.7 1974 1643.2 1974.3 1643.7 1974.6 1644.2 1974.9 1644.7 1975.2 1645.2 1975.5 1645.7 1975.8 1646.2 1976.1 1646.7 1976.4 1647.2 1976.6 1647.7 1976.9 1648.2 1977.2 1648.7 1977.5 1649.2 1977.8 1649.7 1978.1 1650.2 1978.4 1650.7 1978.7 1651.2 1978.9 1651.7 1979.2 1652.2 1979.5 1652.7 1979.8 1653.2 1979.9 1653.7 1980 1654.2 1979.9 1654.7 1979.7 1655.2 1979.5 1655.7 1979.3 1656.2 1979.1 1656.7 1978.9 1657.2 1978.8 1657.7 1978.6 1658.2 1978.4 1658.7 1978.2 1659.2 1978 1659.7 1977.8 1660.2 1977.6 1660.7 1977.4 1661.2 1977.2 1661.7 1977 1662.2 1976.8 1662.7 1976.7 1663.2 1976.5 1663.7 1976.3 1664.2 1976.1 1664.7 1975.9 1665.2 1975.7 1665.7 1975.6 1666.2 1975.6 1666.7 1975.7 1667.2 1975.9 1667.7 1976.1 1668.2 1976.3 1668.7 1976.5 1669.2 1976.7 1669.7 1976.9 1670.2 1977.1 1670.7 1977.3 1671.2 1977.5 1671.7 1977.7 1672.2 1977.9 1672.7 1978.1 1673.2 1978.3 1673.7 1978.6 1674.2 1979 1674.7 1979.4 1675.2 1979.9 1675.7 1980.4 1676.2 1980.9 1676.7 1981.4 1677.2 1981.9 1677.7 1982.4 1678.2 1982.8 1678.7 1983.1 1679.2 1983.3 1679.7 1983.3 1680.2 1983.3 1680.7 1983.3 1681.2 1983.3 1681.7 1983.3 1682.2 1983.3 1682.7 1983.3 1683.2 1983.3 1683.7 1983.3 1684.2 1983.3 1684.7 1983.3 1685.2 1983.3 1685.7 1983.3 1686.2 1983.1 1686.7 1982.8 1687.2 1982.3 1687.7 1981.7 1688.2 1981.1 1688.7 1980.4 1689.2 1979.8 1689.7 1979.1 1690.2 1978.5 1690.7 1977.8 1691.2 1977.4 1691.7 1977.1 1692.2 1976.9 1692.7 1976.8 1693.2 1976.8 1693.7 1976.7 1694.2 1976.7 1694.7 1976.6 1695.2 1976.6 1695.7 1976.5 1696.2 1976.4 1696.7 1976.4 1697.2 1976.3 1697.7 1976.3 1698.2 1976.2 1698.7 1976.2 1699.2 1976.1 1699.7 1976 1700.2 1976 1700.7 1975.9 1701.2 1975.9 1701.7 1975.8 1702.2 1975.8 1702.7 1975.7 1703.2 1975.6 1703.7 1975.6 1704.2 1975.5 1704.7 1975.5 1705.2 1975.5 1705.7 1975.5 1706.2 1975.6 1706.7 1975.7 1707.2 1975.8 1707.7 1975.9 1708.2 1976 1708.7 1976.1 1709.2 1976.2 1709.7 1976.3 1710.2 1976.4 1710.7 1976.5 1711.2 1976.6 1711.7 1976.7 1712.2 1976.8 1712.7 1976.8 1713.2 1976.9 1713.7 1977 1714.2 1977.1 1714.7 1977.1 1715.2 1977.2 1715.7 1977.3 1716.2 1977.3 1716.7 1977.4 1717.2 1977.5 1717.7 1977.5 1718.2 1977.6 1718.7 1977.7 1719.2 1977.8 1719.7 1977.8 1720.2 1977.9 1720.7 1978 1721.2 1978 1721.7 1978.1 1722.2 1978.2 1722.7 1978.2 1723.2 1978.3 1723.7 1978.4 1724.2 1978.5 1724.7 1978.5 1725.2 1978.7 1725.7 1979 1726.2 1979.5 1726.7 1980.3 1727.2 1981.3 1727.7 1982.3 1728.2 1983.3 1728.7 1984.2 1729.2 1985.2 1729.7 1986.2 1730.2 1987.2 1730.7 1988.3 1731.2 1989.3 1731.7 1990.4 1732.2 1991.5 1732.7 1992.6 1733.2 1993.7 1733.7 1994.7 1734.2 1995.8 1734.7 1996.9 1735.2 1998 1735.7 1999.1 1736.2 2000.2 1736.7 2001.2 1737.2 2002.1 1737.7 2002.9 1738.2 2003.4" fill="none" stroke="#c4b040" stroke-width="2.2" stroke-linejoin="round"/>
<path d="M1702.7 2003.7 L1702.7 2003.3 1703.2 2003.3 1703.7 2003.2 1704.2 2003.1 1704.7 2003 1705.2 2002.9 1705.7 2002.7 1706.2 2002.5 1706.7 2002.4 1707.2 2002.1 1707.7 2001.9 1708.2 2001.6 1708.7 2001.2 1709.2 2000.8 1709.7 2000.4 1710.2 1999.9 1710.7 1999.4 1711.2 1998.8 1711.7 1998.1 1712.2 1997.3 1712.7 1996.4 1713.2 1995.5 1713.7 1994.5 1714.2 1993.3 1714.7 1992.1 1715.2 1990.7 1715.7 1989.2 1716.2 1987.6 1716.7 1985.9 1717.2 1984 1717.7 1982 1718.2 1979.8 1718.7 1977.5 1719.2 1975.1 1719.7 1972.5 1720.2 1969.8 1720.7 1967 1721.2 1964 1721.7 1960.9 1722.2 1957.7 1722.7 1954.4 1723.2 1951 1723.7 1947.5 1724.2 1944 1724.7 1940.4 1725.2 1936.7 1725.7 1933.1 1726.2 1929.5 1726.7 1925.9 1727.2 1922.3 1727.7 1918.8 1728.2 1915.5 1728.7 1912.2 1729.2 1909.1 1729.7 1906.1 1730.2 1903.4 1730.7 1900.8 1731.2 1898.5 1731.7 1896.4 1732.2 1894.5 1732.7 1893 1733.2 1891.7 1733.7 1890.8 1734.2 1890.1 1734.7 1889.8 1735.2 1889.7 1735.7 1890 1736.2 1890.6 1736.7 1891.5 1737.2 1892.7 1737.7 1894.2 1738.2 1896 1738.7 1898 1739.2 1900.3 1739.7 1902.8 1740.2 1905.6 1740.7 1908.5 1741.2 1911.6 1741.7 1914.8 1742.2 1918.2 1742.7 1921.6 1743.2 1925.2 1743.7 1928.7 1744.2 1932.4 1744.7 1936 1745.2 1939.6 1745.7 1943.2 1746.2 1946.8 1746.7 1950.3 1747.2 1953.7 1747.7 1957.1 1748.2 1960.3 1748.7 1963.4 1749.2 1966.4 1749.7 1969.3 1750.2 1972 1750.7 1974.6 1751.2 1977.1 1751.7 1979.4 1752.2 1981.6 1752.7 1983.6 1753.2 1985.5 1753.7 1987.3 1754.2 1988.9 1754.7 1990.4 1755.2 1991.8 1755.7 1993.1 1756.2 1994.2 1756.7 1995.3 1757.2 1996.3 1757.7 1997.1 1758.2 1997.9 1758.7 1998.6 1759.2 1999.3 1759.7 1999.8 1760.2 2000.3 1760.7 2000.8 1761.2 2001.2 1761.7 2001.5 1762.2 2001.8 1762.7 2002.1 1763.2 2002.3 1763.7 2002.5 1764.2 2002.7 1764.7 2002.8 1765.2 2003 1765.7 2003.1 1766.2 2003.2 1766.7 2003.3 1767.2 2003.3 L1767.2 2003.7 Z" fill="#00ff00" fill-opacity="0.31"/>
<path d="M1702.7 2003.3 1703.2 2003.3 1703.7 2003.2 1704.2 2003.1 1704.7 2003 1705.2 2002.9 1705.7 2002.7 1706.2 2002.5 1706.7 2002.4 1707.2 2002.1 1707.7 2001.9 1708.2 2001.6 1708.7 2001.2 1709.2 2000.8 1709.7 2000.4 1710.2 1999.9 1710.7 1999.4 1711.2 1998.8 1711.7 1998.1 1712.2 1997.3 1712.7 1996.4 1713.2 1995.5 1713.7 1994.5 1714.2 1993.3 1714.7 1992.1 1715.2 1990.7 1715.7 1989.2 1716.2 1987.6 1716.7 1985.9 1717.2 1984 1717.7 1982 1718.2 1979.8 1718.7 1977.5 1719.2 1975.1 1719.7 1972.5 1720.2 1969.8 1720.7 1967 1721.2 1964 1721.7 1960.9 1722.2 1957.7 1722.7 1954.4 1723.2 1951 1723.7 1947.5 1724.2 1944 1724.7 1940.4 1725.2 1936.7 1725.7 1933.1 1726.2 1929.5 1726.7 1925.9 1727.2 1922.3 1727.7 1918.8 1728.2 1915.5 1728.7 1912.2 1729.2 1909.1 1729.7 1906.1 1730.2 1903.4 1730.7 1900.8 1731.2 1898.5 1731.7 1896.4 1732.2 1894.5 1732.7 1893 1733.2 1891.7 1733.7 1890.8 1734.2 1890.1 1734.7 1889.8 1735.2 1889.7 1735.7 1890 1736.2 1890.6 1736.7 1891.5 1737.2 1892.7 1737.7 1894.2 1738.2 1896 1738.7 1898 1739.2 1900.3 1739.7 1902.8 1740.2 1905.6 1740.7 1908.5 1741.2 1911.6 1741.7 1914.8 1742.2 1918.2 1742.7 1921.6 1743.2 1925.2 1743.7 1928.7 1744.2 1932.4 1744.7 1936 1745.2 1939.6 1745.7 1943.2 1746.2 1946.8 1746.7 1950.3 1747.2 1953.7 1747.7 1957.1 1748.2 1960.3 1748.7 1963.4 1749.2 1966.4 1749.7 1969.3 1750.2 1972 1750.7 1974.6 1751.2 1977.1 1751.7 1979.4 1752.2 1981.6 1752.7 1983.6 1753.2 1985.5 1753.7 1987.3 1754.2 1988.9 1754.7 1990.4 1755.2 1991.8 1755.7 1993.1 1756.2 1994.2 1756.7 1995.3 1757.2 1996.3 1757.7 1997.1 1758.2 1997.9 1758.7 1998.6 1759.2 1999.3 1759.7 1999.8 1760.2 2000.3 1760.7 2000.8 1761.2 2001.2 1761.7 2001.5 1762.2 2001.8 1762.7 2002.1 1763.2 2002.3 1763.7 2002.5 1764.2 2002.7 1764.7 2002.8 1765.2 2003 1765.7 2003.1 1766.2 2003.2 1766.7 2003.3 1767.2 2003.3" fill="none" stroke="#10ee10" stroke-width="2.4" stroke-linejoin="round"/>
<path d="M1561.2 2002.2 1561.7 2002.2 1562.2 2002.1 1562.7 2002 1563.2 2001.7 1563.7 2001.1 1564.2 2000.4 1564.7 1999.4 1565.2 1998.3 1565.7 1997.1 1566.2 1995.7 1566.7 1994.1 1567.2 1992.3 1567.7 1990.1 1568.2 1987.6 1568.7 1984.7 1569.2 1981.2 1569.7 1976.7 1570.2 1971 1570.7 1964.1 1571.2 1956.1 1571.7 1947.5 1572.2 1938.5 1572.7 1929.2 1573.2 1919.6 1573.7 1909.5 1574.2 1898.8 1574.7 1887.6 1575.2 1875.9 1575.7 1863.9 1576.2 1851.6 1576.7 1838.8 1577.2 1825.2 1577.7 1810.3 1578.2 1793.9 1578.7 1776 1579.2 1756.8 1579.7 1736.4 1580.2 1715 1580.7 1692.6 1581.2 1669.3 1581.7 1645.6 1582.2 1621.8 1582.7 1598.3 1583.2 1575.2 1583.7 1552.7 1584.2 1530.7 1584.7 1509.4 1585.2 1488.8 1585.7 1469.4 1586.2 1451.4 1586.7 1435.1 1587.2 1420.3 1587.7 1407.1 1588.2 1395.8 1588.7 1386.9 1589.2 1380.8 1589.7 1378.2 1590.2 1379.3 1590.7 1384.1 1591.2 1392.7 1591.7 1404.7 1592.2 1419.6 1592.7 1436.7 1593.2 1455.5 1593.7 1476 1594.2 1497.8 1594.7 1520.9 1595.2 1544.9 1595.7 1569.8 1596.2 1595.4 1596.7 1621.7 1597.2 1648.6 1597.7 1675.8 1598.2 1702.9 1598.7 1729.3 1599.2 1754.4 1599.7 1777.1 1600.2 1797 1600.7 1814.1 1601.2 1829 1601.7 1842.4 1602.2 1854.8 1602.7 1866.4 1603.2 1877.2 1603.7 1887.1 1604.2 1896.4 1604.7 1905.1 1605.2 1913.1 1605.7 1920.3 1606.2 1926.2 1606.7 1930.9 1607.2 1934.4 1607.7 1937.1 1608.2 1939.3 1608.7 1941.4 1609.2 1943.4 1609.7 1945.3 1610.2 1947 1610.7 1948.6 1611.2 1949.8 1611.7 1950.7 1612.2 1951.5 1612.7 1952.1 1613.2 1952.6 1613.7 1953.1 1614.2 1953.6 1614.7 1954.1 1615.2 1954.6 1615.7 1955.1 1616.2 1955.6 1616.7 1956.1 1617.2 1956.6 1617.7 1957.1 1618.2 1957.6 1618.7 1958.1 1619.2 1958.6 1619.7 1959.1 1620.2 1959.6 1620.7 1960.1 1621.2 1960.6 1621.7 1961.1 1622.2 1961.6 1622.7 1962.1 1623.2 1962.6 1623.7 1963.2 1624.2 1963.7 1624.7 1964.2 1625.2 1964.7 1625.7 1965.2 1626.2 1965.7 1626.7 1966.2 1627.2 1966.6 1627.7 1967 1628.2 1967.2 1628.7 1967.4 1629.2 1967.4 1629.7 1967.4 1630.2 1967.4 1630.7 1967.3 1631.2 1967.2 1631.7 1967.1 1632.2 1967 1632.7 1966.9 1633.2 1966.9 1633.7 1966.8 1634.2 1966.7 1634.7 1966.6 1635.2 1966.5 1635.7 1966.4 1636.2 1966.4 1636.7 1966.3 1637.2 1966.3 1637.7 1966.4 1638.2 1966.6 1638.7 1966.8 1639.2 1967 1639.7 1967.3 1640.2 1967.6 1640.7 1968 1641.2 1968.3 1641.7 1968.6 1642.2 1968.9 1642.7 1969.2 1643.2 1969.5 1643.7 1969.8 1644.2 1970.1 1644.7 1970.4 1645.2 1970.7 1645.7 1971.1 1646.2 1971.4 1646.7 1971.7 1647.2 1972 1647.7 1972.3 1648.2 1972.6 1648.7 1972.9 1649.2 1973.2 1649.7 1973.4 1650.2 1973.5 1650.7 1973.6 1651.2 1973.6 1651.7 1973.6 1652.2 1973.5 1652.7 1973.4 1653.2 1973.3 1653.7 1973.2 1654.2 1973.1 1654.7 1973 1655.2 1972.9 1655.7 1972.8 1656.2 1972.7 1656.7 1972.6 1657.2 1972.5 1657.7 1972.4 1658.2 1972.3 1658.7 1972.2 1659.2 1972.1 1659.7 1972 1660.2 1971.9 1660.7 1971.8 1661.2 1971.7 1661.7 1971.6 1662.2 1971.5 1662.7 1971.4 1663.2 1971.3 1663.7 1971.2 1664.2 1971.1 1664.7 1971 1665.2 1970.9 1665.7 1970.9 1666.2 1971 1666.7 1971.1 1667.2 1971.2 1667.7 1971.4 1668.2 1971.6 1668.7 1971.8 1669.2 1972 1669.7 1972.2 1670.2 1972.4 1670.7 1972.6 1671.2 1972.8 1671.7 1973 1672.2 1973.2 1672.7 1973.4 1673.2 1973.6 1673.7 1973.8 1674.2 1974 1674.7 1974.2 1675.2 1974.4 1675.7 1974.6 1676.2 1974.8 1676.7 1975 1677.2 1975.2 1677.7 1975.4 1678.2 1975.6 1678.7 1975.8 1679.2 1976 1679.7 1976.2 1680.2 1976.4 1680.7 1976.6 1681.2 1976.7 1681.7 1976.8 1682.2 1976.8 1682.7 1976.7 1683.2 1976.5 1683.7 1976.3 1684.2 1976.1 1684.7 1975.9 1685.2 1975.7 1685.7 1975.5 1686.2 1975.3 1686.7 1975.1 1687.2 1974.9 1687.7 1974.7 1688.2 1974.5 1688.7 1974.3 1689.2 1974.1 1689.7 1973.9 1690.2 1973.7 1690.7 1973.5 1691.2 1973.3 1691.7 1973.1 1692.2 1972.9 1692.7 1972.7 1693.2 1972.5 1693.7 1972.3 1694.2 1972.1 1694.7 1971.9 1695.2 1971.7 1695.7 1971.5 1696.2 1971.3 1696.7 1971.1 1697.2 1970.9 1697.7 1970.7 1698.2 1970.5 1698.7 1970.3 1699.2 1970.1 1699.7 1969.9 1700.2 1969.8 1700.7 1969.6 1701.2 1969.4 1701.7 1969.2 1702.2 1969 1702.7 1968.8 1703.2 1968.7 1703.7 1968.5 1704.2 1968.3 1704.7 1968.1 1705.2 1967.9 1705.7 1967.7 1706.2 1967.6 1706.7 1967.4 1707.2 1967.2 1707.7 1967 1708.2 1966.8 1708.7 1966.6 1709.2 1966.3 1709.7 1965.8 1710.2 1965.1 1710.7 1964.1 1711.2 1962.9 1711.7 1961.5 1712.2 1960.1 1712.7 1958.6 1713.2 1957.1 1713.7 1955.6 1714.2 1954.1 1714.7 1952.6 1715.2 1951 1715.7 1949.4 1716.2 1947.6 1716.7 1945.6 1717.2 1943.4 1717.7 1941.1 1718.2 1938.7 1718.7 1936.2 1719.2 1933.7 1719.7 1931.2 1720.2 1928.7 1720.7 1926.2 1721.2 1923.7 1721.7 1921.2 1722.2 1918.7 1722.7 1916.2 1723.2 1913.6 1723.7 1911.1 1724.2 1908.6 1724.7 1906 1725.2 1903.5 1725.7 1900.9 1726.2 1898.4 1726.7 1895.8 1727.2 1893.3 1727.7 1890.9 1728.2 1888.6 1728.7 1886.6 1729.2 1884.9 1729.7 1883.5 1730.2 1882.4 1730.7 1881.4 1731.2 1880.5 1731.7 1879.7 1732.2 1879 1732.7 1878.4 1733.2 1878 1733.7 1877.9 1734.2 1878.3 1734.7 1879 1735.2 1880 1735.7 1881.2 1736.2 1882.4 1736.7 1883.6 1737.2 1884.9 1737.7 1886.2 1738.2 1887.5 1738.7 1888.9 1739.2 1890.6 1739.7 1892.6 1740.2 1895 1740.7 1897.9 1741.2 1901.1 1741.7 1904.7 1742.2 1908.3 1742.7 1912 1743.2 1915.7 1743.7 1919.3 1744.2 1923 1744.7 1926.7 1745.2 1930.4 1745.7 1934 1746.2 1937.5 1746.7 1940.9 1747.2 1944.2 1747.7 1947.4 1748.2 1950.5 1748.7 1953.7 1749.2 1956.8 1749.7 1959.9 1750.2 1963.1 1750.7 1966.2 1751.2 1969.2 1751.7 1972.1 1752.2 1974.8 1752.7 1977.1 1753.2 1979 1753.7 1980.6 1754.2 1981.9 1754.7 1983 1755.2 1984.2 1755.7 1985.3 1756.2 1986.4 1756.7 1987.5 1757.2 1988.6 1757.7 1989.6 1758.2 1990.7 1758.7 1991.8 1759.2 1992.9 1759.7 1993.9 1760.2 1994.8 1760.7 1995.7 1761.2 1996.4 1761.7 1997 1762.2 1997.5 1762.7 1998.1 1763.2 1998.6 1763.7 1999.1 1764.2 1999.5 1764.7 2000 1765.2 2000.5 1765.7 2001 1766.2 2001.4 1766.7 2001.7 1767.2 2001.9 1767.7 2002.1 1768.2 2002.2 1768.7 2002.2 1769.2 2002.2 1769.7 2002.2" fill="none" stroke="#000" stroke-width="3.2" stroke-linejoin="round" stroke-linecap="butt"/>
<path d="M1565.2 2002.1 1565.7 2002.1 1566.2 2002.1 1566.7 2002 1567.2 2001.9 1567.7 2001.8 1568.2 2001.7 1568.7 2001.5 1569.2 2001.2 1569.7 2000.9 1570.2 2000.4 1570.7 1999.8 1571.2 1998.9 1571.7 1997.9 1572.2 1996.5 1572.7 1994.7 1573.2 1992.5 1573.7 1989.8 1574.2 1986.3 1574.7 1982.1 1575.2 1976.9 1575.7 1970.7 1576.2 1963.2 1576.7 1954.3 1577.2 1943.8 1577.7 1931.6 1578.2 1917.5 1578.7 1901.3 1579.2 1883 1579.7 1862.4 1580.2 1839.5 1580.7 1814.3 1581.2 1786.9 1581.7 1757.4 1582.2 1725.9 1582.7 1692.8 1583.2 1658.5 1583.7 1623.2 1584.2 1587.5 1584.7 1551.8 1585.2 1516.7 1585.7 1482 1586.2 1447.9 1586.7 1414.7 1587.2 1383.7 1587.7 1356.1 1588.2 1332.6 1588.7 1313.7 1589.2 1299.7 1589.7 1290.8 1590.2 1287.1 1590.7 1288.6 1591.2 1295.3 1591.7 1306.6 1592.2 1322.4 1592.7 1342.1 1593.2 1365.6 1593.7 1392.6 1594.2 1422.8 1594.7 1455.2 1595.2 1488.8 1595.7 1522.8 1596.2 1557 1596.7 1591.3 1597.2 1625.9 1597.7 1659.8 1598.2 1692.3 1598.7 1722.8 1599.2 1751.1 1599.7 1777.2 1600.2 1801.1 1600.7 1822.7 1601.2 1842.3 1601.7 1859.7 1602.2 1875.1 1602.7 1888.5 1603.2 1900 1603.7 1909.6 1604.2 1917.8 1604.7 1924.7 1605.2 1930.6 1605.7 1935.7 1606.2 1940 1606.7 1943.8 1607.2 1946.9 1607.7 1949.5 1608.2 1951.5 1608.7 1952.9 1609.2 1954 1609.7 1954.9 1610.2 1955.7 1610.7 1956.4 1611.2 1957 1611.7 1957.5 1612.2 1958 1612.7 1958.5 1613.2 1958.9 1613.7 1959.4 1614.2 1959.7 1614.7 1960.1 1615.2 1960.4 1615.7 1960.7 1616.2 1961 1616.7 1961.3 1617.2 1961.6 1617.7 1961.9 1618.2 1962.2 1618.7 1962.5 1619.2 1962.8 1619.7 1963.1 1620.2 1963.4 1620.7 1963.7 1621.2 1964.1 1621.7 1964.6 1622.2 1965.4 1622.7 1966.5 1623.2 1967.7 1623.7 1969.1 1624.2 1970.4 1624.7 1971.7 1625.2 1973.1 1625.7 1974.4 1626.2 1975.5 1626.7 1976.3 1627.2 1976.4 1627.7 1976.1 1628.2 1975.6 1628.7 1975.1 1629.2 1974.6 1629.7 1974.1 1630.2 1973.6 1630.7 1973.1 1631.2 1972.6 1631.7 1972.1 1632.2 1971.6 1632.7 1971.1 1633.2 1970.6 1633.7 1970.1 1634.2 1969.6 1634.7 1969.1 1635.2 1968.6 1635.7 1968.1 1636.2 1967.6 1636.7 1967.1 1637.2 1966.7 1637.7 1966.6 1638.2 1966.9 1638.7 1967.5 1639.2 1968.1 1639.7 1968.8 1640.2 1969.5 1640.7 1970.1 1641.2 1970.8 1641.7 1971.4 1642.2 1972 1642.7 1972.5 1643.2 1972.8 1643.7 1973.1 1644.2 1973.4 1644.7 1973.7 1645.2 1974 1645.7 1974.3 1646.2 1974.6 1646.7 1974.9 1647.2 1975.1 1647.7 1975.4 1648.2 1975.7 1648.7 1976 1649.2 1976.3 1649.7 1976.6 1650.2 1976.9 1650.7 1977.2 1651.2 1977.4 1651.7 1977.7 1652.2 1978 1652.7 1978.3 1653.2 1978.4 1653.7 1978.5 1654.2 1978.4 1654.7 1978.2 1655.2 1978 1655.7 1977.8 1656.2 1977.6 1656.7 1977.4 1657.2 1977.3 1657.7 1977.1 1658.2 1976.9 1658.7 1976.7 1659.2 1976.5 1659.7 1976.3 1660.2 1976.1 1660.7 1975.9 1661.2 1975.7 1661.7 1975.5 1662.2 1975.3 1662.7 1975.2 1663.2 1975 1663.7 1974.8 1664.2 1974.6 1664.7 1974.4 1665.2 1974.2 1665.7 1974.1 1666.2 1974.1 1666.7 1974.2 1667.2 1974.4 1667.7 1974.6 1668.2 1974.8 1668.7 1975 1669.2 1975.2 1669.7 1975.4 1670.2 1975.6 1670.7 1975.8 1671.2 1976 1671.7 1976.2 1672.2 1976.4 1672.7 1976.6 1673.2 1976.8 1673.7 1977.1 1674.2 1977.5 1674.7 1977.9 1675.2 1978.4 1675.7 1978.9 1676.2 1979.4 1676.7 1979.9 1677.2 1980.4 1677.7 1980.9 1678.2 1981.3 1678.7 1981.6 1679.2 1981.8 1679.7 1981.8 1680.2 1981.8 1680.7 1981.8 1681.2 1981.8 1681.7 1981.8 1682.2 1981.8 1682.7 1981.8 1683.2 1981.8 1683.7 1981.8 1684.2 1981.8 1684.7 1981.8 1685.2 1981.8 1685.7 1981.8 1686.2 1981.6 1686.7 1981.3 1687.2 1980.8 1687.7 1980.2 1688.2 1979.6 1688.7 1978.9 1689.2 1978.3 1689.7 1977.6 1690.2 1977 1690.7 1976.3 1691.2 1975.9 1691.7 1975.6 1692.2 1975.4 1692.7 1975.3 1693.2 1975.3 1693.7 1975.2 1694.2 1975.2 1694.7 1975.1 1695.2 1975 1695.7 1975 1696.2 1974.9 1696.7 1974.9 1697.2 1974.8 1697.7 1974.7 1698.2 1974.7 1698.7 1974.6 1699.2 1974.5 1699.7 1974.4 1700.2 1974.4 1700.7 1974.3 1701.2 1974.2 1701.7 1974.1 1702.2 1974 1702.7 1973.9 1703.2 1973.7 1703.7 1973.6 1704.2 1973.4 1704.7 1973.3 1705.2 1973.1 1705.7 1973 1706.2 1972.9 1706.7 1972.8 1707.2 1972.7 1707.7 1972.5 1708.2 1972.3 1708.7 1972.1 1709.2 1971.8 1709.7 1971.5 1710.2 1971.1 1710.7 1970.7 1711.2 1970.1 1711.7 1969.6 1712.2 1968.9 1712.7 1968.1 1713.2 1967.2 1713.7 1966.2 1714.2 1965.2 1714.7 1964 1715.2 1962.7 1715.7 1961.3 1716.2 1959.7 1716.7 1958.1 1717.2 1956.3 1717.7 1954.3 1718.2 1952.2 1718.7 1950 1719.2 1947.7 1719.7 1945.2 1720.2 1942.5 1720.7 1939.7 1721.2 1936.8 1721.7 1933.8 1722.2 1930.7 1722.7 1927.4 1723.2 1924.1 1723.7 1920.7 1724.2 1917.2 1724.7 1913.7 1725.2 1910.2 1725.7 1906.9 1726.2 1903.8 1726.7 1901 1727.2 1898.4 1727.7 1895.9 1728.2 1893.5 1728.7 1891.2 1729.2 1889.1 1729.7 1887.2 1730.2 1885.4 1730.7 1883.9 1731.2 1882.6 1731.7 1881.6 1732.2 1880.8 1732.7 1880.4 1733.2 1880.2 1733.7 1880.3 1734.2 1880.7 1734.7 1881.5 1735.2 1882.5 1735.7 1883.9 1736.2 1885.6 1736.7 1887.5 1737.2 1889.7 1737.7 1891.9 1738.2 1894.2 1738.7 1896.5 1739.2 1898.8 1739.7 1901.3 1740.2 1904.1 1740.7 1907 1741.2 1910.1 1741.7 1913.3 1742.2 1916.7 1742.7 1920.1 1743.2 1923.7 1743.7 1927.2 1744.2 1930.9 1744.7 1934.5 1745.2 1938.1 1745.7 1941.7 1746.2 1945.3 1746.7 1948.8 1747.2 1952.2 1747.7 1955.6 1748.2 1958.8 1748.7 1961.9 1749.2 1964.9 1749.7 1967.8 1750.2 1970.5 1750.7 1973.1 1751.2 1975.6 1751.7 1977.9 1752.2 1980.1 1752.7 1982.1 1753.2 1984 1753.7 1985.8 1754.2 1987.4 1754.7 1988.9 1755.2 1990.3 1755.7 1991.6 1756.2 1992.7 1756.7 1993.8 1757.2 1994.8 1757.7 1995.6 1758.2 1996.4 1758.7 1997.1 1759.2 1997.8 1759.7 1998.3 1760.2 1998.8 1760.7 1999.3 1761.2 1999.7 1761.7 2000 1762.2 2000.3 1762.7 2000.6 1763.2 2000.8 1763.7 2001 1764.2 2001.2 1764.7 2001.3 1765.2 2001.5 1765.7 2001.6" fill="none" stroke="#ff00ff" stroke-width="4.0" stroke-linejoin="round" stroke-linecap="butt"/>
</g>
<line x1="1436.8" y1="2002" x2="1567" y2="2002" stroke="#d090d0" stroke-width="4.2"/>
<line x1="1764" y1="2002" x2="2211.4" y2="2002" stroke="#d090d0" stroke-width="4.2"/>
<line x1="1432.6" y1="1226.4" x2="2215.5" y2="1226.4" stroke="#000" stroke-width="3.9"/>
<line x1="1432.6" y1="2005" x2="2215.5" y2="2005" stroke="#000" stroke-width="1.8"/>
<line x1="1434.7" y1="1226.4" x2="1434.7" y2="2005" stroke="#000" stroke-width="4.2"/>
<line x1="2213.4" y1="1226.4" x2="2213.4" y2="2005" stroke="#000" stroke-width="4.1"/>
<line x1="1413" y1="1285" x2="1433.1" y2="1285" stroke="#000" stroke-width="5.8"/>
<text transform="translate(1398.4 1303.5) scale(0.94 1)" font-size="45" text-anchor="end" font-weight="bold">600</text>
<line x1="1424.7" y1="1347.8" x2="1433.1" y2="1347.8" stroke="#000" stroke-width="3.4"/>
<line x1="1424.7" y1="1406" x2="1433.1" y2="1406" stroke="#000" stroke-width="2.4"/>
<line x1="1424.7" y1="1466.2" x2="1433.1" y2="1466.2" stroke="#000" stroke-width="3.4"/>
<line x1="1413" y1="1522.8" x2="1433.1" y2="1522.8" stroke="#000" stroke-width="5.8"/>
<text transform="translate(1398.4 1540) scale(0.94 1)" font-size="45" text-anchor="end" font-weight="bold">400</text>
<line x1="1424.7" y1="1586.2" x2="1433.1" y2="1586.2" stroke="#000" stroke-width="3.4"/>
<line x1="1424.7" y1="1645.1" x2="1433.1" y2="1645.1" stroke="#000" stroke-width="2.4"/>
<line x1="1424.7" y1="1705.8" x2="1433.1" y2="1705.8" stroke="#000" stroke-width="3.4"/>
<line x1="1413" y1="1763" x2="1433.1" y2="1763" stroke="#000" stroke-width="5.8"/>
<text transform="translate(1398.4 1782.4) scale(0.94 1)" font-size="45" text-anchor="end" font-weight="bold">200</text>
<line x1="1424.7" y1="1825.8" x2="1433.1" y2="1825.8" stroke="#000" stroke-width="3.4"/>
<line x1="1424.7" y1="1884.1" x2="1433.1" y2="1884.1" stroke="#000" stroke-width="2.4"/>
<line x1="1424.7" y1="1944.4" x2="1433.1" y2="1944.4" stroke="#000" stroke-width="3.4"/>
<line x1="1413" y1="2001" x2="1433.1" y2="2001" stroke="#000" stroke-width="5.8"/>
<text transform="translate(1398.4 1998.8) scale(0.94 1)" font-size="45" text-anchor="end" font-weight="bold">0</text>
<line x1="1424.7" y1="1226.2" x2="1433.1" y2="1226.2" stroke="#000" stroke-width="4.6"/>
<line x1="1435.5" y1="2005" x2="1435.5" y2="2023.4" stroke="#000" stroke-width="5.9"/>
<line x1="1488.1" y1="2005" x2="1488.1" y2="2015.3" stroke="#000" stroke-width="3"/>
<line x1="1540.8" y1="2005" x2="1540.8" y2="2015.3" stroke="#000" stroke-width="3"/>
<line x1="1593.4" y1="2005" x2="1593.4" y2="2015.3" stroke="#000" stroke-width="3"/>
<line x1="1646" y1="2005" x2="1646" y2="2023.4" stroke="#000" stroke-width="5.9"/>
<line x1="1698.5" y1="2005" x2="1698.5" y2="2015.3" stroke="#000" stroke-width="3"/>
<line x1="1751.1" y1="2005" x2="1751.1" y2="2015.3" stroke="#000" stroke-width="3"/>
<line x1="1803.7" y1="2005" x2="1803.7" y2="2015.3" stroke="#000" stroke-width="3"/>
<line x1="1856.2" y1="2005" x2="1856.2" y2="2023.4" stroke="#000" stroke-width="5.9"/>
<line x1="1907.8" y1="2005" x2="1907.8" y2="2015.3" stroke="#000" stroke-width="3"/>
<line x1="1959.4" y1="2005" x2="1959.4" y2="2015.3" stroke="#000" stroke-width="3"/>
<line x1="2011" y1="2005" x2="2011" y2="2015.3" stroke="#000" stroke-width="3"/>
<line x1="2062.6" y1="2005" x2="2062.6" y2="2023.4" stroke="#000" stroke-width="5.9"/>
<line x1="2114.2" y1="2005" x2="2114.2" y2="2015.3" stroke="#000" stroke-width="3"/>
<line x1="2165.8" y1="2005" x2="2165.8" y2="2015.3" stroke="#000" stroke-width="3"/>
<text transform="translate(1431 2067.6) scale(0.94 1)" font-size="45" text-anchor="start" font-weight="bold">0</text>
<text transform="translate(1647 2067.6) scale(0.94 1)" font-size="45" text-anchor="middle" font-weight="bold">200K</text>
<text transform="translate(1856.4 2067.6) scale(0.94 1)" font-size="45" text-anchor="middle" font-weight="bold">400K</text>
<text transform="translate(2064 2067.6) scale(0.94 1)" font-size="45" text-anchor="middle" font-weight="bold">600K</text>
<text x="1862" y="1198.6" font-size="77" text-anchor="middle" font-weight="bold">12.0 μM</text>
<text x="1820.5" y="2173.7" font-size="54.5" text-anchor="middle" font-weight="bold">PI-A</text>
<text transform="translate(1256.5 1611) rotate(-90)" font-size="56" font-weight="bold" text-anchor="middle">Count</text>
<text x="1877.8" y="1428" font-size="55"><tspan font-weight="bold">%G1</tspan> : 49.3</text>
<text x="1877.8" y="1495.1" font-size="55"><tspan font-weight="bold">%S</tspan> : 32.5</text>
<text x="1877.8" y="1562.2" font-size="55"><tspan font-weight="bold">%G2</tspan> : 16.1</text>
</g>
</svg>
</body></html>
